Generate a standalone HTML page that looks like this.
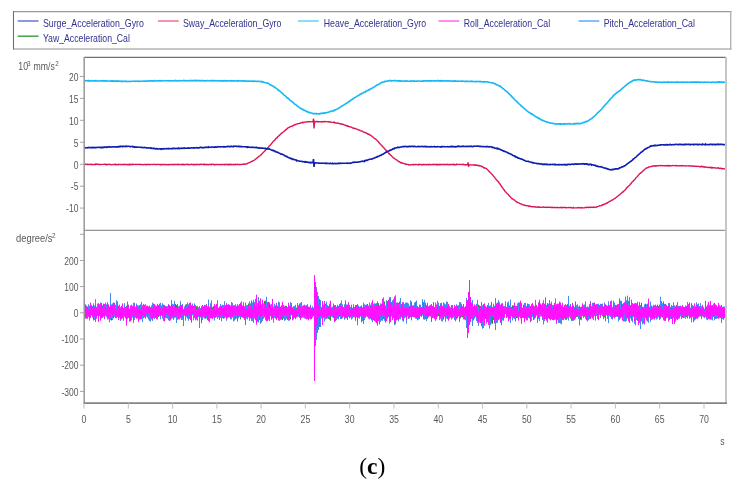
<!DOCTYPE html>
<html><head><meta charset="utf-8"><style>
html,body{margin:0;padding:0;background:#fff;}
body{width:738px;height:484px;overflow:hidden;position:relative;}
svg{position:absolute;left:0;top:0;will-change:transform;}
.t{font-family:"Liberation Sans",sans-serif;font-size:10.9px;fill:#585858;}
.lg{font-family:"Liberation Sans",sans-serif;font-size:11.5px;fill:#31318f;}
.cap{font-family:"Liberation Serif",serif;font-size:23.5px;fill:#000;}
</style></head><body>
<svg width="738" height="484" viewBox="0 0 738 484">
<line x1="13" y1="11.6" x2="731.5" y2="11.6" stroke="#9a9a9a" stroke-width="1.2"/>
<line x1="13" y1="49" x2="731.5" y2="49" stroke="#b4b4b4" stroke-width="1.6"/>
<line x1="13.5" y1="11" x2="13.5" y2="49.5" stroke="#707070" stroke-width="1.1"/>
<line x1="730.7" y1="11" x2="730.7" y2="49.5" stroke="#b4b4b4" stroke-width="1.4"/>
<line x1="17.7" y1="21" x2="38.5" y2="21" stroke="#6b7fd4" stroke-width="1.6"/>
<text x="42.9" y="27.3" class="lg" textLength="101" lengthAdjust="spacingAndGlyphs">Surge_Acceleration_Gyro</text>
<line x1="158" y1="21" x2="178.8" y2="21" stroke="#ee7a98" stroke-width="1.6"/>
<text x="182.9" y="27.3" class="lg" textLength="98.5" lengthAdjust="spacingAndGlyphs">Sway_Acceleration_Gyro</text>
<line x1="298" y1="21" x2="318.8" y2="21" stroke="#6ed4f4" stroke-width="1.6"/>
<text x="323.7" y="27.3" class="lg" textLength="102.4" lengthAdjust="spacingAndGlyphs">Heave_Acceleration_Gyro</text>
<line x1="438.5" y1="21" x2="459.3" y2="21" stroke="#ff6cf0" stroke-width="1.6"/>
<text x="463.7" y="27.3" class="lg" textLength="86.4" lengthAdjust="spacingAndGlyphs">Roll_Acceleration_Cal</text>
<line x1="578.5" y1="21" x2="599.3" y2="21" stroke="#6aaef8" stroke-width="1.6"/>
<text x="603.7" y="27.3" class="lg" textLength="91.2" lengthAdjust="spacingAndGlyphs">Pitch_Acceleration_Cal</text>
<line x1="17.7" y1="36.2" x2="38.5" y2="36.2" stroke="#4fa84f" stroke-width="1.6"/>
<text x="42.9" y="41.9" class="lg" textLength="87" lengthAdjust="spacingAndGlyphs">Yaw_Acceleration_Cal</text>
<text transform="translate(18.3 69.6) scale(0.8 1)" class="t">10</text>
<text x="26.9" y="65.6" class="t" style="font-size:6.4px">3</text>
<text transform="translate(33.6 69.6) scale(0.8 1)" class="t">mm/s</text>
<text x="55.3" y="65.6" class="t" style="font-size:6.4px">2</text>
<text transform="translate(16 242.3) scale(0.86 1)" class="t">degree/s</text>
<text x="51.9" y="238.2" class="t" style="font-size:6.4px">2</text>
<text transform="translate(720.3 444.6) scale(0.8 1)" class="t">s</text>
<text x="372.3" y="473.5" text-anchor="middle" class="cap">(<tspan font-weight="bold">c</tspan>)</text>
<g>
<path fill="none" stroke="#2e8b2e" stroke-width="1" d="M84.5 307.4V315.6M85.5 308.2V313.8M86.5 307.2V314.0M87.5 308.7V314.4M88.5 307.6V315.1M89.5 307.6V313.7M90.5 308.0V316.1M91.5 308.0V314.9M92.5 307.5V316.7M93.5 308.3V314.7M94.5 308.3V318.0M95.5 306.7V314.4M96.5 310.0V315.0M97.5 307.2V314.4M98.5 309.8V316.9M99.5 308.2V313.8M100.5 308.6V313.9M101.5 308.1V316.1M102.5 308.1V314.2M103.5 309.2V315.9M104.5 306.2V313.8M105.5 307.2V315.8M106.5 308.3V315.9M107.5 308.8V316.7M108.5 307.2V314.7M109.5 309.3V314.6M110.5 308.0V315.5M111.5 308.0V320.5M112.5 307.5V318.8M113.5 305.1V318.1M114.5 311.0V316.4M115.5 305.1V314.3M116.5 305.9V316.2M117.5 308.2V314.1M118.5 310.0V316.0M119.5 306.1V315.6M120.5 309.9V315.6M121.5 310.5V315.3M122.5 307.8V313.6M123.5 308.2V317.0M124.5 307.7V315.0M125.5 307.3V317.5M126.5 305.8V315.7M127.5 306.8V315.1M128.5 309.0V314.7M129.5 308.8V314.6M130.5 308.8V314.3M131.5 308.1V315.2M132.5 309.5V314.5M133.5 308.5V314.4M134.5 310.3V315.0M135.5 308.0V315.9M136.5 306.9V315.0M137.5 305.5V315.5M138.5 308.4V317.3M139.5 309.5V316.5M140.5 308.0V315.7M141.5 308.4V314.7M142.5 306.8V317.2M143.5 305.9V317.7M144.5 308.1V315.3M145.5 307.3V315.9M146.5 309.1V315.8M147.5 310.9V317.6M148.5 309.2V314.6M149.5 308.4V316.7M150.5 307.5V316.3M151.5 308.3V313.9M152.5 307.4V315.7M153.5 308.1V315.1M154.5 307.3V313.5M155.5 307.0V317.8M156.5 308.5V317.0M157.5 306.8V313.5M158.5 305.2V317.0M159.5 309.1V314.1M160.5 311.9V318.0M161.5 307.7V314.5M162.5 308.3V315.3M163.5 310.2V316.9M164.5 308.2V315.2M165.5 306.8V317.8M166.5 308.5V317.7M167.5 306.6V314.0M168.5 306.7V314.2M169.5 308.4V315.2M170.5 310.0V315.3M171.5 308.2V315.1M172.5 307.2V317.0M173.5 305.4V313.6M174.5 309.0V317.3M175.5 303.9V317.3M176.5 305.1V317.5M177.5 308.5V315.6M178.5 308.4V313.2M179.5 306.7V314.0M180.5 307.5V316.2M181.5 309.4V318.8M182.5 308.5V316.5M183.5 309.3V315.9M184.5 309.0V314.1M185.5 308.6V315.2M186.5 304.3V314.9M187.5 308.5V317.8M188.5 307.2V313.1M189.5 308.2V315.6M190.5 307.1V316.5M191.5 305.4V316.0M192.5 307.6V313.5M193.5 305.9V317.7M194.5 308.2V313.9M195.5 308.7V313.8M196.5 306.4V316.7M197.5 308.5V313.7M198.5 309.8V316.5M199.5 306.7V313.8M200.5 308.2V316.9M201.5 308.4V316.3M202.5 305.5V314.6M203.5 306.8V314.4M204.5 307.5V313.6M205.5 306.9V313.6M206.5 304.2V314.9M207.5 307.4V317.1M208.5 308.8V315.9M209.5 307.9V315.8M210.5 309.0V315.0M211.5 308.9V314.3M212.5 307.3V314.2M213.5 307.8V317.5M214.5 304.5V316.0M215.5 309.5V315.2M216.5 309.0V316.4M217.5 308.1V314.6M218.5 309.0V316.1M219.5 307.4V315.9M220.5 310.5V316.0M221.5 309.8V314.7M222.5 309.0V318.1M223.5 307.6V313.8M224.5 309.2V313.0M225.5 308.9V315.6M226.5 307.4V313.4M227.5 308.6V315.3M228.5 307.4V316.4M229.5 308.8V316.1M230.5 309.0V315.8M231.5 306.9V315.5M232.5 308.7V314.3M233.5 307.8V318.7M234.5 308.6V316.0M235.5 306.7V315.0M236.5 308.1V312.4M237.5 307.7V315.9M238.5 307.9V316.0M239.5 309.3V316.9M240.5 308.7V319.3M241.5 306.5V314.7M242.5 307.8V314.7M243.5 306.6V315.6M244.5 307.5V316.6M245.5 305.1V317.0M246.5 307.7V315.9M247.5 307.1V316.0M248.5 303.5V314.5M249.5 307.6V318.0M250.5 307.8V316.0M251.5 305.6V315.6M252.5 307.5V314.7M253.5 308.3V315.7M254.5 307.7V314.9M255.5 305.6V319.6M256.5 305.1V318.2M257.5 305.7V317.0M258.5 301.8V315.9M259.5 303.0V319.9M260.5 308.0V318.2M261.5 309.6V316.3M262.5 305.5V320.7M263.5 305.5V318.6M264.5 301.0V315.3M265.5 308.8V317.1M266.5 306.1V317.2M267.5 309.8V315.7M268.5 301.8V316.9M269.5 302.6V317.1M270.5 308.2V315.5M271.5 306.5V319.7M272.5 307.4V315.7M273.5 307.1V316.7M274.5 307.3V314.5M275.5 306.1V315.9M276.5 309.5V316.4M277.5 310.0V315.8M278.5 306.0V314.2M279.5 307.0V318.0M280.5 309.8V318.0M281.5 310.5V314.7M282.5 307.1V320.0M283.5 305.1V315.5M284.5 309.2V315.2M285.5 308.9V315.4M286.5 305.9V314.7M287.5 308.3V315.4M288.5 304.9V316.5M289.5 308.6V315.1M290.5 311.0V319.4M291.5 306.5V315.2M292.5 308.3V317.3M293.5 309.0V317.5M294.5 308.6V316.1M295.5 307.5V315.0M296.5 307.7V314.5M297.5 308.4V315.0M298.5 306.1V316.6M299.5 308.5V315.6M300.5 309.0V313.9M301.5 310.3V317.8M302.5 307.9V314.8M303.5 305.6V315.7M304.5 305.8V314.1M305.5 307.9V316.1M306.5 306.1V313.6M307.5 307.6V315.5M308.5 309.1V315.9M309.5 307.4V318.3M310.5 306.9V315.2M311.5 310.7V315.1M312.5 308.4V314.6M313.5 308.3V315.9M314.5 309.0V317.4M315.5 306.0V317.4M316.5 309.6V313.8M317.5 305.7V314.6M318.5 306.9V318.5M319.5 307.4V314.5M320.5 307.9V316.4M321.5 307.3V314.2M322.5 306.2V316.6M323.5 308.4V316.1M324.5 305.6V317.9M325.5 303.9V314.5M326.5 308.6V315.5M327.5 309.7V316.5M328.5 309.0V318.9M329.5 310.2V315.4M330.5 309.0V320.8M331.5 309.3V314.8M332.5 307.3V316.1M333.5 311.1V315.8M334.5 309.2V315.8M335.5 310.5V316.4M336.5 308.2V315.2M337.5 308.1V318.6M338.5 307.6V314.1M339.5 306.0V314.9M340.5 309.2V312.7M341.5 308.8V318.9M342.5 308.6V317.7M343.5 307.7V315.0M344.5 304.5V315.9M345.5 309.5V315.0M346.5 309.4V316.5M347.5 308.6V316.1M348.5 307.0V316.2M349.5 309.4V317.2M350.5 308.2V315.8M351.5 309.3V316.2M352.5 308.6V314.3M353.5 306.3V315.7M354.5 308.1V313.7M355.5 309.9V314.9M356.5 308.4V316.6M357.5 308.6V315.0M358.5 308.9V317.8M359.5 307.5V312.5M360.5 307.8V313.6M361.5 308.3V313.5M362.5 309.4V314.5M363.5 308.5V315.6M364.5 309.0V313.4M365.5 309.4V317.6M366.5 307.2V314.9M367.5 307.3V316.9M368.5 307.6V316.8M369.5 310.6V317.1M370.5 308.0V314.0M371.5 305.8V318.9M372.5 307.6V312.1M373.5 308.4V313.6M374.5 305.6V316.4M375.5 307.7V315.4M376.5 307.5V318.4M377.5 306.9V319.7M378.5 303.2V314.8M379.5 308.5V319.1M380.5 308.6V318.5M381.5 305.7V317.3M382.5 305.7V314.2M383.5 304.1V317.5M384.5 301.6V313.5M385.5 305.5V315.7M386.5 300.4V317.9M387.5 308.1V316.7M388.5 309.1V316.4M389.5 299.9V316.1M390.5 305.2V314.2M391.5 304.5V315.3M392.5 305.8V314.9M393.5 307.2V317.9M394.5 302.9V316.0M395.5 304.1V316.0M396.5 307.1V318.2M397.5 306.3V314.7M398.5 309.3V317.6M399.5 301.7V315.5M400.5 308.5V315.3M401.5 305.5V314.2M402.5 307.8V317.5M403.5 306.0V315.7M404.5 308.1V316.2M405.5 306.8V315.1M406.5 307.8V314.0M407.5 307.0V314.4M408.5 306.8V319.0M409.5 308.0V314.8M410.5 306.0V316.7M411.5 309.5V315.3M412.5 309.9V316.5M413.5 308.2V316.2M414.5 305.4V316.0M415.5 306.4V313.3M416.5 309.0V317.5M417.5 308.2V315.8M418.5 309.8V315.7M419.5 308.3V315.1M420.5 307.1V313.2M421.5 308.6V315.4M422.5 305.4V314.1M423.5 307.8V315.3M424.5 308.8V315.7M425.5 306.6V314.0M426.5 309.2V314.3M427.5 309.2V318.7M428.5 310.8V317.1M429.5 307.5V315.9M430.5 306.8V312.8M431.5 307.5V314.1M432.5 307.4V315.3M433.5 309.0V315.5M434.5 309.3V314.7M435.5 305.1V316.9M436.5 308.7V313.8M437.5 308.7V315.2M438.5 310.6V316.0M439.5 309.6V316.0M440.5 308.3V315.4M441.5 310.3V316.3M442.5 307.5V315.7M443.5 308.5V315.4M444.5 309.1V316.2M445.5 308.2V313.2M446.5 308.8V314.1M447.5 308.2V315.3M448.5 308.6V314.4M449.5 309.5V315.2M450.5 309.0V314.4M451.5 305.1V315.0M452.5 305.1V311.8M453.5 308.3V316.0M454.5 309.0V313.8M455.5 307.5V315.8M456.5 306.7V315.8M457.5 308.3V316.7M458.5 307.6V313.8M459.5 308.2V314.9M460.5 308.7V318.4M461.5 308.3V314.1M462.5 309.2V317.3M463.5 310.8V314.7M464.5 309.9V318.1M465.5 308.3V314.2M466.5 305.0V317.7M467.5 308.3V317.0M468.5 306.9V314.9M469.5 307.6V317.2M470.5 306.4V316.4M471.5 307.6V314.3M472.5 310.0V316.1M473.5 307.7V318.4M474.5 307.9V317.0M475.5 308.9V315.3M476.5 308.2V315.5M477.5 309.3V315.1M478.5 304.7V314.0M479.5 305.6V316.1M480.5 309.8V320.1M481.5 307.8V319.4M482.5 308.4V314.8M483.5 308.3V314.6M484.5 309.0V317.2M485.5 306.4V317.2M486.5 308.3V317.6M487.5 308.3V317.8M488.5 309.0V317.5M489.5 307.1V315.8M490.5 310.2V318.5M491.5 307.0V314.3M492.5 307.4V323.8M493.5 307.3V316.8M494.5 306.3V314.5M495.5 306.0V315.9M496.5 310.1V317.8M497.5 306.3V317.0M498.5 308.9V316.5M499.5 310.2V315.8M500.5 305.9V314.1M501.5 306.6V315.1M502.5 307.9V319.9M503.5 307.4V314.0M504.5 308.5V317.6M505.5 305.6V313.9M506.5 308.6V313.6M507.5 310.0V316.6M508.5 309.4V315.2M509.5 307.3V315.5M510.5 308.9V315.3M511.5 308.2V315.0M512.5 305.4V315.0M513.5 310.1V317.0M514.5 307.7V318.9M515.5 305.9V316.8M516.5 308.7V318.1M517.5 305.9V315.3M518.5 305.8V314.7M519.5 308.9V316.7M520.5 308.1V316.5M521.5 307.3V315.5M522.5 308.0V316.9M523.5 304.8V317.2M524.5 306.6V318.5M525.5 307.5V318.4M526.5 307.5V314.0M527.5 305.8V319.6M528.5 308.1V313.8M529.5 305.9V318.1M530.5 309.8V315.6M531.5 309.2V317.2M532.5 304.7V314.2M533.5 308.0V316.9M534.5 306.4V314.8M535.5 305.0V315.5M536.5 306.4V315.0M537.5 307.5V316.4M538.5 308.5V316.9M539.5 310.9V315.7M540.5 307.8V315.9M541.5 307.4V314.0M542.5 307.9V315.2M543.5 307.0V317.0M544.5 307.3V315.3M545.5 309.4V314.9M546.5 309.1V316.0M547.5 309.8V320.8M548.5 308.6V315.3M549.5 306.8V316.3M550.5 306.6V319.7M551.5 309.5V318.2M552.5 309.7V315.0M553.5 306.7V318.7M554.5 309.6V315.7M555.5 307.6V315.3M556.5 307.5V316.4M557.5 304.6V319.5M558.5 308.5V316.4M559.5 307.8V317.6M560.5 308.8V317.2M561.5 310.4V316.3M562.5 308.8V319.0M563.5 309.4V318.6M564.5 308.0V317.6M565.5 308.3V314.2M566.5 310.4V319.7M567.5 305.3V315.8M568.5 306.7V316.9M569.5 306.3V315.0M570.5 306.5V318.6M571.5 307.9V317.4M572.5 308.5V316.3M573.5 306.8V315.8M574.5 307.2V316.0M575.5 311.3V318.4M576.5 306.7V317.0M577.5 309.2V316.2M578.5 308.8V315.3M579.5 305.6V314.1M580.5 307.1V319.7M581.5 307.5V314.7M582.5 307.4V316.0M583.5 305.2V317.3M584.5 309.4V316.7M585.5 310.9V317.7M586.5 308.1V318.1M587.5 308.3V315.0M588.5 309.0V314.8M589.5 307.3V316.3M590.5 304.9V317.3M591.5 309.0V315.5M592.5 307.7V318.0M593.5 307.5V315.7M594.5 308.6V315.8M595.5 309.1V318.5M596.5 311.5V314.1M597.5 309.5V315.1M598.5 309.1V316.9M599.5 305.5V314.4M600.5 309.8V317.8M601.5 307.9V314.0M602.5 308.6V314.7M603.5 306.5V314.4M604.5 309.4V317.4M605.5 306.1V317.1M606.5 309.2V314.6M607.5 306.3V313.7M608.5 306.8V314.7M609.5 306.5V314.7M610.5 307.0V313.4M611.5 309.3V315.0M612.5 309.4V315.4M613.5 307.4V315.6M614.5 308.3V314.8M615.5 308.9V314.7M616.5 305.3V314.3M617.5 308.9V316.8M618.5 305.6V314.9M619.5 309.0V318.1M620.5 301.8V313.9M621.5 310.2V314.4M622.5 304.3V314.0M623.5 305.9V316.1M624.5 305.7V313.5M625.5 303.3V317.8M626.5 300.7V319.2M627.5 300.2V316.6M628.5 304.5V317.6M629.5 305.4V319.5M630.5 305.4V315.2M631.5 305.3V319.3M632.5 309.3V318.4M633.5 306.4V315.5M634.5 308.8V317.6M635.5 307.9V316.5M636.5 307.0V317.6M637.5 306.9V315.8M638.5 308.1V317.1M639.5 308.0V315.6M640.5 306.4V315.3M641.5 302.9V312.8M642.5 307.4V321.4M643.5 307.2V319.3M644.5 308.4V317.5M645.5 307.5V318.0M646.5 309.1V318.1M647.5 303.7V319.7M648.5 307.8V314.5M649.5 309.0V317.0M650.5 308.1V318.5M651.5 307.3V317.2M652.5 309.8V316.6M653.5 307.9V314.3M654.5 306.9V315.6M655.5 307.9V314.2M656.5 308.1V314.6M657.5 304.7V316.2M658.5 306.1V314.5M659.5 306.4V314.9M660.5 308.8V317.3M661.5 307.6V316.2M662.5 304.7V316.0M663.5 306.2V316.2M664.5 310.1V316.7M665.5 307.9V315.0M666.5 308.5V318.3M667.5 308.2V315.7M668.5 308.8V315.1M669.5 311.3V314.2M670.5 307.1V314.8M671.5 309.3V317.1M672.5 308.5V316.5M673.5 307.6V314.4M674.5 309.1V315.8M675.5 306.4V316.1M676.5 308.8V316.2M677.5 305.5V315.7M678.5 306.0V313.5M679.5 309.1V316.6M680.5 309.3V315.2M681.5 310.5V317.5M682.5 308.2V315.6M683.5 307.0V317.0M684.5 308.9V315.9M685.5 308.2V315.8M686.5 307.8V317.0M687.5 306.6V316.5M688.5 305.5V313.8M689.5 307.1V314.8M690.5 307.6V314.0M691.5 306.4V315.2M692.5 307.2V315.0M693.5 308.0V314.6M694.5 308.4V314.8M695.5 309.4V315.2M696.5 308.5V314.5M697.5 306.0V316.0M698.5 308.9V316.7M699.5 309.3V314.7M700.5 310.6V316.3M701.5 308.0V315.2M702.5 306.0V315.7M703.5 309.9V314.6M704.5 308.8V315.9M705.5 308.1V314.1M706.5 307.4V316.9M707.5 307.2V316.9M708.5 307.6V316.0M709.5 309.9V315.3M710.5 308.9V315.2M711.5 305.4V317.5M712.5 308.2V317.4M713.5 307.9V315.6M714.5 309.1V317.5M715.5 307.4V318.7M716.5 306.9V315.2M717.5 310.0V318.1M718.5 309.9V314.6M719.5 306.2V314.9M720.5 309.8V316.0M721.5 309.3V315.2M722.5 309.4V316.4M723.5 306.7V315.8M724.5 307.3V316.8M725.5 306.5V314.9"/>
<path fill="none" stroke="#3d8cf2" stroke-width="1" d="M84.5 306.6V318.1M85.5 304.3V318.7M86.5 305.6V315.0M87.5 306.5V318.9M88.5 304.3V316.6M89.5 305.7V320.6M90.5 304.5V316.6M91.5 305.0V315.0M92.5 305.9V316.4M93.5 303.3V315.8M94.5 305.6V319.9M95.5 299.2V322.0M96.5 306.8V318.2M97.5 303.6V315.9M98.5 307.3V316.8M99.5 306.2V316.1M100.5 302.5V319.9M101.5 309.2V316.7M102.5 305.3V317.7M103.5 308.9V316.9M104.5 308.3V319.3M105.5 302.7V315.8M106.5 304.3V317.2M107.5 306.6V319.7M108.5 304.8V318.9M109.5 308.3V322.4M110.5 293.0V320.1M111.5 304.5V318.2M112.5 303.4V320.1M113.5 302.5V315.6M114.5 303.2V316.7M115.5 305.6V317.8M116.5 300.2V318.2M117.5 301.4V315.7M118.5 305.6V314.9M119.5 304.5V317.7M120.5 307.1V320.9M121.5 306.7V318.3M122.5 307.0V315.6M123.5 307.9V320.8M124.5 303.1V315.0M125.5 306.8V315.7M126.5 306.8V314.8M127.5 309.4V319.2M128.5 304.6V317.0M129.5 309.4V317.3M130.5 310.2V318.8M131.5 304.6V320.2M132.5 305.8V317.7M133.5 302.7V323.0M134.5 302.8V319.9M135.5 306.8V317.7M136.5 303.5V317.6M137.5 305.4V313.5M138.5 305.5V317.5M139.5 306.0V319.6M140.5 304.3V317.1M141.5 301.9V319.2M142.5 308.2V322.2M143.5 303.9V318.3M144.5 305.8V317.2M145.5 304.2V318.8M146.5 309.1V316.6M147.5 305.5V317.3M148.5 306.9V319.7M149.5 309.6V321.0M150.5 307.8V321.7M151.5 305.4V319.5M152.5 302.7V320.9M153.5 305.7V317.2M154.5 305.8V319.2M155.5 305.4V314.7M156.5 308.4V315.5M157.5 305.4V319.6M158.5 308.1V314.1M159.5 303.7V316.3M160.5 302.8V319.3M161.5 305.4V315.7M162.5 303.2V318.7M163.5 308.4V321.0M164.5 305.8V321.3M165.5 306.0V317.5M166.5 306.3V318.1M167.5 306.2V318.7M168.5 304.2V320.2M169.5 307.0V316.2M170.5 306.2V315.0M171.5 300.0V318.8M172.5 303.9V318.3M173.5 304.3V319.9M174.5 300.9V318.2M175.5 308.3V317.4M176.5 307.6V323.0M177.5 308.0V319.9M178.5 306.4V316.6M179.5 305.9V319.5M180.5 301.1V315.8M181.5 307.0V320.0M182.5 303.9V319.8M183.5 309.9V326.2M184.5 306.4V315.4M185.5 305.7V320.7M186.5 305.5V317.2M187.5 302.4V316.1M188.5 304.2V320.7M189.5 309.3V319.0M190.5 303.4V315.5M191.5 305.7V322.4M192.5 303.6V315.3M193.5 307.5V320.4M194.5 303.4V318.1M195.5 305.1V320.3M196.5 309.4V316.6M197.5 305.9V320.7M198.5 307.2V317.0M199.5 306.0V328.0M200.5 308.3V317.6M201.5 306.1V317.2M202.5 305.2V320.0M203.5 308.7V317.4M204.5 304.8V318.6M205.5 305.0V314.1M206.5 307.5V318.3M207.5 308.1V316.5M208.5 299.5V318.9M209.5 306.7V322.3M210.5 303.2V317.3M211.5 300.3V318.4M212.5 309.2V315.2M213.5 306.5V317.1M214.5 304.4V320.5M215.5 305.3V317.9M216.5 306.5V315.3M217.5 300.1V318.9M218.5 308.8V317.5M219.5 306.3V315.3M220.5 304.0V317.9M221.5 306.0V321.3M222.5 304.7V317.5M223.5 305.0V317.5M224.5 301.2V318.4M225.5 305.1V317.5M226.5 307.8V320.8M227.5 306.1V318.2M228.5 304.2V317.5M229.5 305.8V317.5M230.5 311.0V319.5M231.5 302.0V319.3M232.5 302.9V316.2M233.5 305.3V321.4M234.5 305.3V320.6M235.5 304.1V319.4M236.5 306.1V318.4M237.5 303.9V315.9M238.5 306.6V318.3M239.5 307.6V316.5M240.5 306.4V317.8M241.5 301.3V314.5M242.5 310.7V315.8M243.5 302.1V317.8M244.5 306.7V317.8M245.5 302.5V321.2M246.5 305.1V318.6M247.5 305.1V319.4M248.5 306.0V316.9M249.5 301.5V320.9M250.5 303.4V318.3M251.5 301.3V321.2M252.5 302.3V321.1M253.5 299.7V322.9M254.5 301.9V317.9M255.5 298.7V317.5M256.5 301.8V319.0M257.5 303.1V320.6M258.5 297.0V322.5M259.5 300.6V314.7M260.5 300.3V323.8M261.5 306.9V322.6M262.5 303.2V320.7M263.5 303.3V318.6M264.5 304.9V317.5M265.5 300.6V320.3M266.5 296.8V316.7M267.5 307.0V317.9M268.5 306.4V319.1M269.5 308.1V319.7M270.5 304.7V316.4M271.5 304.1V318.5M272.5 308.8V317.3M273.5 306.4V322.7M274.5 303.7V317.8M275.5 307.4V315.8M276.5 305.4V318.7M277.5 305.8V318.0M278.5 301.5V320.1M279.5 302.3V320.9M280.5 308.8V318.0M281.5 310.8V315.0M282.5 306.7V316.7M283.5 305.2V318.4M284.5 309.2V320.8M285.5 307.2V320.2M286.5 309.9V318.9M287.5 306.9V315.2M288.5 307.7V320.8M289.5 307.4V320.6M290.5 302.1V317.0M291.5 307.2V315.0M292.5 307.3V319.3M293.5 306.3V319.5M294.5 305.9V317.8M295.5 304.8V317.8M296.5 308.7V317.5M297.5 303.1V316.8M298.5 308.1V316.7M299.5 303.5V318.0M300.5 302.8V320.3M301.5 302.0V316.4M302.5 307.0V314.1M303.5 305.3V317.7M304.5 304.6V318.5M305.5 306.7V318.8M306.5 305.0V317.9M307.5 304.1V315.2M308.5 307.0V317.1M309.5 307.0V318.6M310.5 304.7V313.7M311.5 308.8V317.4M312.5 306.2V317.2M313.5 310.3V316.0M314.5 275.0V338.0M315.5 282.0V346.0M316.5 287.0V340.0M317.5 292.0V333.0M318.5 296.0V330.0M319.5 304.0V319.5M320.5 300.0V327.0M321.5 307.4V318.4M322.5 306.5V321.8M323.5 305.2V317.7M324.5 306.5V321.6M325.5 305.1V319.5M326.5 301.6V318.6M327.5 305.7V318.5M328.5 306.0V317.8M329.5 304.9V319.7M330.5 306.4V314.2M331.5 307.4V314.3M332.5 306.7V317.6M333.5 303.6V318.0M334.5 307.9V317.5M335.5 309.3V317.4M336.5 306.7V320.2M337.5 304.8V318.4M338.5 305.9V319.4M339.5 305.8V316.8M340.5 303.0V318.9M341.5 300.4V317.9M342.5 304.2V318.1M343.5 307.0V313.9M344.5 304.8V319.8M345.5 308.9V317.1M346.5 304.4V316.3M347.5 304.6V319.7M348.5 302.8V317.0M349.5 307.2V315.5M350.5 307.0V316.6M351.5 307.8V319.6M352.5 307.7V318.6M353.5 304.2V316.2M354.5 307.0V317.0M355.5 305.1V319.1M356.5 306.0V316.4M357.5 305.3V325.4M358.5 305.6V314.0M359.5 306.7V318.7M360.5 306.2V316.7M361.5 308.0V322.3M362.5 309.3V321.1M363.5 302.5V324.0M364.5 304.3V320.1M365.5 305.0V317.5M366.5 304.4V314.5M367.5 305.4V317.0M368.5 308.8V317.9M369.5 302.4V319.4M370.5 304.7V319.0M371.5 302.6V316.6M372.5 304.7V322.2M373.5 303.9V314.3M374.5 303.3V318.3M375.5 304.1V322.2M376.5 303.2V318.1M377.5 309.8V323.7M378.5 308.9V318.9M379.5 307.8V315.7M380.5 303.4V321.9M381.5 303.6V320.5M382.5 302.4V320.9M383.5 297.4V319.1M384.5 303.9V320.8M385.5 306.3V318.4M386.5 300.9V319.3M387.5 310.5V318.4M388.5 303.2V317.1M389.5 302.6V323.6M390.5 297.1V315.9M391.5 302.3V316.3M392.5 300.4V315.7M393.5 298.9V318.0M394.5 303.4V325.1M395.5 295.3V321.7M396.5 302.5V317.6M397.5 307.0V318.6M398.5 303.0V321.3M399.5 303.8V319.3M400.5 298.0V319.3M401.5 305.2V317.4M402.5 306.5V320.7M403.5 302.0V318.6M404.5 303.9V318.2M405.5 302.8V317.1M406.5 302.5V323.7M407.5 302.7V316.1M408.5 303.5V318.9M409.5 306.4V316.8M410.5 300.3V316.9M411.5 307.2V318.7M412.5 309.4V316.7M413.5 305.9V316.8M414.5 302.7V317.5M415.5 307.1V318.6M416.5 300.5V318.8M417.5 306.2V318.8M418.5 307.2V319.7M419.5 308.0V317.0M420.5 304.7V314.4M421.5 307.8V317.1M422.5 299.2V315.6M423.5 306.6V318.1M424.5 299.8V319.8M425.5 308.0V317.4M426.5 306.5V321.1M427.5 302.8V316.9M428.5 306.6V317.2M429.5 305.6V314.0M430.5 307.4V315.8M431.5 304.3V322.1M432.5 307.1V316.4M433.5 307.1V317.9M434.5 307.3V315.9M435.5 302.5V319.0M436.5 308.0V315.6M437.5 300.8V314.5M438.5 302.6V314.1M439.5 306.9V320.1M440.5 303.2V316.6M441.5 302.8V321.1M442.5 307.3V321.6M443.5 302.3V316.5M444.5 303.4V315.3M445.5 304.3V321.8M446.5 301.5V318.4M447.5 301.8V319.2M448.5 306.6V317.3M449.5 306.0V318.7M450.5 307.3V317.2M451.5 305.0V319.6M452.5 305.5V318.3M453.5 308.4V317.6M454.5 306.1V320.0M455.5 306.8V321.4M456.5 304.3V317.7M457.5 305.8V316.0M458.5 305.1V316.0M459.5 302.1V321.6M460.5 302.2V315.4M461.5 306.6V316.8M462.5 306.4V316.1M463.5 306.3V319.4M464.5 307.3V314.5M465.5 308.3V320.2M466.5 298.0V328.0M467.5 304.3V316.1M468.5 296.0V330.0M469.5 305.0V320.7M470.5 302.1V318.3M471.5 302.3V319.0M472.5 300.0V326.0M473.5 307.5V318.2M474.5 305.1V318.7M475.5 305.3V317.2M476.5 303.9V321.0M477.5 299.7V322.9M478.5 306.9V326.0M479.5 307.8V322.5M480.5 308.2V322.4M481.5 301.9V320.3M482.5 305.3V328.7M483.5 305.4V328.1M484.5 306.7V322.1M485.5 306.3V319.0M486.5 308.1V323.7M487.5 305.5V320.2M488.5 302.9V319.3M489.5 306.0V328.6M490.5 305.2V325.2M491.5 302.4V323.5M492.5 307.3V317.2M493.5 303.7V314.7M494.5 305.8V323.6M495.5 298.0V330.0M496.5 306.2V323.1M497.5 309.2V322.7M498.5 300.2V319.9M499.5 302.2V319.3M500.5 308.0V322.9M501.5 304.0V317.5M502.5 303.1V320.5M503.5 306.0V320.7M504.5 306.1V316.9M505.5 301.2V312.0M506.5 307.8V317.7M507.5 302.4V315.2M508.5 301.5V318.2M509.5 305.4V319.4M510.5 299.6V322.9M511.5 307.8V313.7M512.5 308.1V320.5M513.5 305.6V317.6M514.5 307.2V319.1M515.5 306.9V315.0M516.5 306.2V316.4M517.5 303.3V318.0M518.5 302.4V315.5M519.5 307.8V315.0M520.5 305.8V316.1M521.5 302.9V322.0M522.5 307.6V316.5M523.5 308.3V315.4M524.5 303.0V314.2M525.5 302.9V318.0M526.5 306.0V319.3M527.5 305.4V320.4M528.5 304.0V317.8M529.5 304.3V316.1M530.5 308.2V322.1M531.5 303.9V320.9M532.5 305.5V316.9M533.5 308.3V319.4M534.5 307.7V319.4M535.5 299.9V317.9M536.5 305.7V315.0M537.5 306.7V322.9M538.5 306.6V319.0M539.5 299.7V321.0M540.5 308.3V316.7M541.5 304.7V316.4M542.5 308.5V319.9M543.5 300.2V324.5M544.5 304.5V321.1M545.5 304.5V319.0M546.5 304.9V313.5M547.5 303.0V316.2M548.5 303.7V317.8M549.5 305.4V319.2M550.5 308.7V318.8M551.5 301.6V318.7M552.5 305.1V314.0M553.5 307.1V317.8M554.5 311.0V316.1M555.5 298.4V319.6M556.5 305.0V313.3M557.5 303.6V318.6M558.5 306.2V322.9M559.5 307.4V323.0M560.5 306.4V323.6M561.5 305.5V324.3M562.5 304.4V319.3M563.5 306.9V320.3M564.5 308.6V317.9M565.5 304.1V319.8M566.5 308.0V317.4M567.5 305.7V318.5M568.5 296.0V320.6M569.5 305.6V316.8M570.5 304.0V318.0M571.5 308.0V319.8M572.5 304.6V320.9M573.5 306.6V318.7M574.5 306.9V319.9M575.5 304.4V314.4M576.5 305.2V315.7M577.5 304.3V315.7M578.5 306.6V318.9M579.5 308.7V325.5M580.5 307.4V316.2M581.5 306.5V320.3M582.5 305.3V315.1M583.5 306.0V317.9M584.5 304.5V315.4M585.5 301.5V318.8M586.5 307.1V318.7M587.5 309.3V321.4M588.5 306.9V320.3M589.5 307.1V319.2M590.5 300.9V319.0M591.5 307.8V317.3M592.5 302.8V315.9M593.5 303.3V320.1M594.5 306.2V316.1M595.5 307.9V318.5M596.5 309.0V315.9M597.5 305.3V319.0M598.5 303.6V319.7M599.5 307.8V315.0M600.5 303.9V316.1M601.5 307.8V315.1M602.5 303.6V316.2M603.5 309.0V319.2M604.5 302.4V315.7M605.5 305.4V321.1M606.5 305.1V313.0M607.5 306.3V318.9M608.5 301.3V323.2M609.5 305.6V316.1M610.5 304.0V317.1M611.5 300.4V319.0M612.5 306.8V319.6M613.5 300.8V314.2M614.5 302.6V316.3M615.5 306.1V314.1M616.5 305.2V316.8M617.5 304.2V315.4M618.5 306.5V321.5M619.5 304.3V318.3M620.5 300.5V317.0M621.5 305.6V313.8M622.5 304.1V317.8M623.5 307.3V321.5M624.5 302.7V321.5M625.5 296.5V321.7M626.5 300.3V320.9M627.5 295.6V317.6M628.5 300.8V320.9M629.5 297.0V322.0M630.5 307.1V318.3M631.5 303.8V318.9M632.5 303.2V322.3M633.5 303.8V316.9M634.5 305.3V323.8M635.5 303.9V325.5M636.5 306.1V320.1M637.5 301.6V314.9M638.5 309.3V319.2M639.5 301.9V323.0M640.5 305.0V329.0M641.5 307.4V321.5M642.5 307.8V324.3M643.5 306.8V323.7M644.5 304.4V324.6M645.5 307.2V316.7M646.5 304.3V320.2M647.5 304.2V321.6M648.5 306.6V322.7M649.5 306.8V317.3M650.5 301.6V321.9M651.5 307.6V320.0M652.5 306.4V317.8M653.5 304.8V318.7M654.5 306.7V317.5M655.5 305.4V318.0M656.5 306.0V319.6M657.5 307.1V318.7M658.5 308.8V317.3M659.5 304.5V318.3M660.5 296.7V319.0M661.5 301.0V317.0M662.5 303.2V314.2M663.5 307.4V320.4M664.5 303.8V316.1M665.5 307.1V319.3M666.5 304.8V317.4M667.5 306.2V317.8M668.5 303.0V319.7M669.5 303.1V317.0M670.5 306.9V319.1M671.5 304.9V318.7M672.5 305.8V316.8M673.5 302.3V318.1M674.5 305.4V321.8M675.5 306.8V321.7M676.5 306.6V317.3M677.5 302.0V319.8M678.5 305.9V318.7M679.5 307.0V318.5M680.5 305.7V316.5M681.5 306.3V319.1M682.5 305.0V317.6M683.5 309.8V318.0M684.5 308.7V317.8M685.5 305.5V318.8M686.5 305.8V314.7M687.5 302.0V315.8M688.5 307.2V316.2M689.5 308.8V318.8M690.5 308.0V318.0M691.5 307.8V322.4M692.5 305.0V315.9M693.5 305.8V315.9M694.5 305.9V320.6M695.5 310.3V318.6M696.5 302.3V317.1M697.5 304.9V319.0M698.5 303.5V316.3M699.5 306.1V316.7M700.5 303.2V315.5M701.5 306.2V319.2M702.5 304.8V316.1M703.5 309.1V317.4M704.5 308.8V318.3M705.5 306.8V317.2M706.5 306.9V319.6M707.5 304.5V320.2M708.5 303.5V314.2M709.5 307.5V315.8M710.5 302.1V316.9M711.5 307.1V319.7M712.5 307.7V320.5M713.5 303.5V315.4M714.5 305.5V320.3M715.5 304.3V317.4M716.5 309.3V319.0M717.5 307.7V318.3M718.5 306.3V316.8M719.5 305.2V317.8M720.5 306.7V314.9M721.5 306.4V323.1M722.5 306.8V319.2M723.5 307.5V314.7M724.5 306.5V315.9M725.5 310.4V318.7"/>
<path fill="none" stroke="#ff10ff" stroke-width="1" d="M84.5 301.2V318.1M85.5 305.6V317.6M86.5 306.7V318.5M87.5 306.8V315.4M88.5 309.5V316.7M89.5 309.6V317.5M90.5 302.5V318.1M91.5 305.2V315.5M92.5 307.2V317.5M93.5 306.6V320.5M94.5 307.9V316.4M95.5 304.2V320.7M96.5 307.0V318.7M97.5 309.7V315.6M98.5 303.3V321.9M99.5 304.3V315.7M100.5 304.1V320.8M101.5 302.9V318.3M102.5 307.1V318.0M103.5 303.6V315.2M104.5 304.0V318.6M105.5 306.6V314.8M106.5 308.7V315.7M107.5 302.2V317.0M108.5 304.4V319.1M109.5 306.8V313.4M110.5 305.6V317.7M111.5 304.9V313.4M112.5 305.7V316.3M113.5 302.8V316.4M114.5 302.8V314.6M115.5 308.3V318.1M116.5 310.0V317.8M117.5 305.6V316.9M118.5 306.0V320.1M119.5 307.7V317.1M120.5 308.3V319.3M121.5 305.7V319.3M122.5 303.4V318.3M123.5 308.4V316.5M124.5 306.7V316.7M125.5 308.2V318.4M126.5 307.7V325.7M127.5 301.6V317.1M128.5 304.9V318.0M129.5 309.1V321.5M130.5 305.6V321.5M131.5 306.0V315.8M132.5 306.1V316.1M133.5 307.1V319.5M134.5 305.4V316.4M135.5 309.6V317.0M136.5 305.8V318.8M137.5 307.5V318.1M138.5 308.7V321.9M139.5 305.2V314.9M140.5 310.0V319.3M141.5 308.2V318.5M142.5 305.3V315.9M143.5 305.0V315.7M144.5 304.8V317.4M145.5 308.9V316.8M146.5 305.9V314.1M147.5 306.6V316.5M148.5 306.5V313.8M149.5 305.7V314.0M150.5 307.4V317.1M151.5 307.2V317.4M152.5 308.3V319.5M153.5 303.6V318.1M154.5 304.1V316.6M155.5 306.5V318.0M156.5 305.9V319.2M157.5 303.8V317.0M158.5 306.0V316.1M159.5 304.0V314.4M160.5 307.8V316.2M161.5 307.8V315.1M162.5 308.2V316.8M163.5 304.6V313.3M164.5 305.0V321.3M165.5 306.0V316.0M166.5 308.0V313.4M167.5 307.4V315.6M168.5 304.5V315.6M169.5 305.0V321.0M170.5 306.2V320.4M171.5 304.3V317.6M172.5 305.7V316.6M173.5 308.1V316.5M174.5 306.3V316.2M175.5 307.4V316.7M176.5 307.6V316.4M177.5 304.0V315.0M178.5 308.1V319.3M179.5 305.7V314.5M180.5 305.4V317.9M181.5 305.0V317.1M182.5 304.8V314.9M183.5 309.4V316.9M184.5 308.5V315.7M185.5 304.6V316.0M186.5 307.7V315.1M187.5 305.9V318.5M188.5 306.3V314.5M189.5 303.0V316.0M190.5 302.4V320.2M191.5 306.0V322.4M192.5 304.7V313.8M193.5 310.0V314.1M194.5 305.0V317.0M195.5 306.4V318.7M196.5 309.2V319.6M197.5 309.4V317.0M198.5 308.3V315.2M199.5 308.7V319.1M200.5 308.8V316.6M201.5 308.2V323.3M202.5 305.0V316.5M203.5 306.4V315.2M204.5 306.2V317.3M205.5 307.5V318.8M206.5 304.5V316.0M207.5 306.3V320.2M208.5 305.2V321.1M209.5 308.0V316.6M210.5 306.5V318.3M211.5 305.5V317.4M212.5 309.0V319.0M213.5 306.2V315.6M214.5 304.2V317.7M215.5 309.3V316.9M216.5 303.8V316.8M217.5 305.7V314.1M218.5 307.7V316.1M219.5 307.6V319.9M220.5 305.7V316.7M221.5 305.7V314.8M222.5 307.2V315.8M223.5 308.1V318.7M224.5 305.7V316.8M225.5 305.9V316.7M226.5 303.1V318.9M227.5 304.7V317.1M228.5 304.5V317.0M229.5 304.8V316.3M230.5 305.4V316.9M231.5 306.7V316.4M232.5 305.7V317.4M233.5 305.8V315.8M234.5 305.7V315.2M235.5 307.3V318.6M236.5 306.6V315.3M237.5 305.7V321.4M238.5 305.5V315.1M239.5 304.0V315.1M240.5 302.7V316.2M241.5 304.6V317.1M242.5 305.3V317.7M243.5 306.0V318.1M244.5 306.3V319.9M245.5 307.3V325.1M246.5 309.0V316.5M247.5 308.6V316.7M248.5 305.0V317.3M249.5 307.6V318.4M250.5 305.8V318.3M251.5 300.4V318.2M252.5 308.9V318.1M253.5 303.6V317.3M254.5 304.0V318.5M255.5 306.1V320.3M256.5 294.7V324.7M257.5 306.6V321.8M258.5 302.2V315.4M259.5 306.2V319.7M260.5 298.4V316.9M261.5 304.4V316.4M262.5 299.9V316.3M263.5 308.2V314.5M264.5 303.3V317.1M265.5 301.8V316.2M266.5 306.9V321.2M267.5 302.1V321.2M268.5 302.3V319.5M269.5 309.1V321.1M270.5 304.8V316.0M271.5 307.6V318.1M272.5 298.9V318.6M273.5 309.4V318.2M274.5 307.4V315.1M275.5 305.3V318.6M276.5 302.9V320.1M277.5 306.1V318.1M278.5 307.1V320.4M279.5 306.7V315.0M280.5 306.6V319.9M281.5 305.3V319.5M282.5 301.9V316.4M283.5 306.4V318.3M284.5 306.4V315.4M285.5 305.7V315.6M286.5 307.3V316.3M287.5 308.7V320.0M288.5 302.7V319.4M289.5 305.7V318.8M290.5 306.3V314.3M291.5 303.0V315.0M292.5 307.6V320.4M293.5 308.8V317.0M294.5 309.2V317.5M295.5 309.0V319.2M296.5 309.9V317.2M297.5 307.7V316.3M298.5 305.3V313.8M299.5 304.4V316.3M300.5 306.9V319.1M301.5 308.8V316.9M302.5 305.9V317.4M303.5 308.3V314.2M304.5 305.3V316.8M305.5 305.6V315.2M306.5 306.5V319.4M307.5 306.8V318.9M308.5 306.6V320.4M309.5 306.9V315.8M310.5 306.5V319.4M311.5 307.7V319.1M312.5 309.0V317.3M313.5 307.6V315.9M314.5 276.0V381.0M315.5 284.0V330.0M316.5 290.0V326.0M317.5 296.0V328.0M318.5 304.8V317.1M319.5 299.0V327.0M320.5 309.9V315.5M321.5 308.0V315.8M322.5 301.0V325.0M323.5 304.7V317.2M324.5 301.0V317.3M325.5 308.9V315.7M326.5 307.7V318.5M327.5 305.4V317.4M328.5 307.0V315.9M329.5 303.6V314.6M330.5 300.7V316.3M331.5 307.7V316.6M332.5 309.4V315.6M333.5 304.2V317.4M334.5 305.1V322.2M335.5 305.1V321.1M336.5 308.2V318.2M337.5 305.7V317.2M338.5 307.0V315.6M339.5 304.0V316.6M340.5 305.8V315.6M341.5 306.2V316.2M342.5 306.2V318.1M343.5 307.0V316.6M344.5 307.7V317.4M345.5 300.3V318.5M346.5 305.9V318.2M347.5 306.0V320.1M348.5 302.1V315.8M349.5 304.9V318.4M350.5 308.9V317.4M351.5 304.7V316.1M352.5 308.7V315.6M353.5 305.1V317.3M354.5 307.1V317.2M355.5 305.6V320.8M356.5 305.0V317.1M357.5 304.1V321.3M358.5 307.4V317.3M359.5 308.5V317.2M360.5 307.1V315.4M361.5 305.4V321.7M362.5 307.3V316.6M363.5 305.0V322.2M364.5 306.8V316.9M365.5 308.8V317.4M366.5 306.1V316.4M367.5 304.0V317.1M368.5 305.7V318.5M369.5 308.7V317.2M370.5 306.9V317.5M371.5 305.7V320.3M372.5 300.2V319.5M373.5 306.6V320.2M374.5 305.8V321.0M375.5 303.6V317.6M376.5 305.0V323.2M377.5 301.5V325.6M378.5 305.7V321.0M379.5 305.4V324.3M380.5 304.6V315.0M381.5 304.5V317.3M382.5 298.8V314.8M383.5 304.0V318.9M384.5 304.1V316.3M385.5 307.9V322.5M386.5 308.4V321.1M387.5 301.1V318.3M388.5 299.8V315.6M389.5 297.3V321.1M390.5 302.7V322.1M391.5 302.1V316.3M392.5 306.4V320.1M393.5 303.3V316.0M394.5 296.6V322.3M395.5 306.9V324.3M396.5 304.6V320.4M397.5 302.5V319.8M398.5 302.9V319.5M399.5 306.9V315.3M400.5 308.2V316.3M401.5 304.1V316.8M402.5 302.3V319.3M403.5 306.1V321.7M404.5 307.8V315.6M405.5 308.2V317.3M406.5 307.6V319.4M407.5 307.2V316.2M408.5 308.0V317.8M409.5 305.8V318.4M410.5 306.4V316.8M411.5 301.6V320.4M412.5 305.4V316.5M413.5 305.4V317.2M414.5 306.9V317.0M415.5 301.8V316.8M416.5 307.8V317.9M417.5 306.1V320.4M418.5 308.0V317.7M419.5 304.6V319.1M420.5 306.8V316.2M421.5 307.0V315.7M422.5 307.4V314.1M423.5 302.1V319.3M424.5 308.2V315.4M425.5 302.8V319.1M426.5 305.3V316.0M427.5 304.3V318.2M428.5 306.4V316.9M429.5 306.1V315.2M430.5 304.8V316.4M431.5 304.2V321.1M432.5 306.0V318.1M433.5 302.0V316.2M434.5 307.1V318.9M435.5 311.1V320.8M436.5 304.5V319.2M437.5 306.4V316.8M438.5 308.7V313.7M439.5 305.9V316.9M440.5 305.0V318.7M441.5 303.8V314.0M442.5 305.8V317.4M443.5 306.6V319.6M444.5 307.0V316.7M445.5 307.9V318.7M446.5 307.0V315.2M447.5 306.1V319.0M448.5 303.9V320.7M449.5 308.3V315.8M450.5 308.2V317.5M451.5 305.7V318.1M452.5 306.5V318.0M453.5 310.0V315.5M454.5 304.8V316.4M455.5 306.3V318.7M456.5 305.5V319.4M457.5 305.7V318.1M458.5 308.7V316.4M459.5 310.5V321.9M460.5 307.4V316.8M461.5 303.6V317.1M462.5 306.4V315.5M463.5 304.0V317.3M464.5 307.6V319.6M465.5 306.2V316.0M466.5 300.5V316.2M467.5 300.0V338.0M468.5 292.0V333.0M469.5 280.0V325.0M470.5 297.0V322.0M471.5 303.5V318.2M472.5 303.4V318.3M473.5 306.4V320.4M474.5 304.4V315.7M475.5 306.4V315.8M476.5 305.5V317.5M477.5 308.3V321.8M478.5 312.0V322.6M479.5 308.5V317.6M480.5 306.0V323.0M481.5 307.6V326.2M482.5 308.8V321.0M483.5 304.1V317.9M484.5 303.4V325.6M485.5 308.9V318.5M486.5 306.8V322.5M487.5 305.2V322.0M488.5 307.2V324.9M489.5 306.6V318.4M490.5 307.3V316.2M491.5 301.9V321.2M492.5 307.4V315.1M493.5 305.6V320.0M494.5 307.4V322.3M495.5 305.9V319.8M496.5 303.4V320.2M497.5 302.5V319.4M498.5 303.9V320.1M499.5 309.7V316.3M500.5 304.7V322.3M501.5 303.5V325.2M502.5 303.6V317.7M503.5 306.8V319.9M504.5 307.3V317.5M505.5 307.5V313.9M506.5 306.9V317.8M507.5 304.5V317.4M508.5 307.2V321.4M509.5 307.0V318.0M510.5 308.1V318.7M511.5 306.9V316.4M512.5 309.6V317.0M513.5 305.7V318.1M514.5 302.6V316.7M515.5 308.0V321.5M516.5 306.2V316.4M517.5 306.1V316.9M518.5 311.9V320.6M519.5 302.5V315.9M520.5 300.7V318.3M521.5 303.9V323.8M522.5 307.8V317.9M523.5 306.7V318.0M524.5 305.4V322.1M525.5 309.1V316.7M526.5 307.7V320.4M527.5 303.5V316.6M528.5 306.8V316.0M529.5 308.3V318.4M530.5 306.0V321.6M531.5 305.8V316.1M532.5 303.0V313.9M533.5 305.3V320.0M534.5 306.8V317.3M535.5 303.8V316.5M536.5 304.9V315.5M537.5 309.5V321.0M538.5 302.3V317.4M539.5 302.6V314.1M540.5 303.5V314.8M541.5 306.8V315.0M542.5 302.9V318.3M543.5 309.2V315.6M544.5 303.7V319.2M545.5 297.4V317.4M546.5 307.9V320.7M547.5 303.5V322.6M548.5 305.1V318.3M549.5 300.1V319.2M550.5 303.6V320.3M551.5 304.1V319.2M552.5 308.4V320.0M553.5 305.1V320.3M554.5 303.0V319.8M555.5 307.2V315.7M556.5 304.2V323.9M557.5 305.4V320.1M558.5 303.7V319.1M559.5 301.6V317.9M560.5 302.5V318.1M561.5 305.9V319.2M562.5 302.8V319.9M563.5 307.1V319.2M564.5 305.0V318.6M565.5 307.8V319.5M566.5 305.0V317.4M567.5 303.9V316.8M568.5 307.1V317.2M569.5 307.7V314.4M570.5 305.1V316.5M571.5 307.1V320.8M572.5 303.0V319.8M573.5 305.5V320.8M574.5 308.9V319.4M575.5 301.5V318.3M576.5 308.2V316.2M577.5 308.4V316.8M578.5 310.2V314.9M579.5 306.3V318.3M580.5 308.6V317.5M581.5 307.2V315.1M582.5 303.3V316.1M583.5 307.5V315.8M584.5 306.8V315.7M585.5 305.6V316.1M586.5 308.0V320.3M587.5 306.5V319.3M588.5 308.9V316.0M589.5 304.1V317.7M590.5 302.7V318.8M591.5 306.2V314.7M592.5 306.2V318.5M593.5 303.0V317.1M594.5 302.4V315.1M595.5 304.6V320.6M596.5 304.1V314.2M597.5 304.1V315.7M598.5 308.2V320.2M599.5 305.0V313.2M600.5 306.0V316.6M601.5 303.9V313.6M602.5 306.5V316.0M603.5 308.1V317.4M604.5 304.5V316.0M605.5 304.3V321.3M606.5 305.9V315.3M607.5 305.8V316.0M608.5 305.7V315.0M609.5 305.0V313.2M610.5 301.3V314.9M611.5 307.2V317.0M612.5 308.3V317.4M613.5 305.2V317.3M614.5 306.5V318.5M615.5 304.9V317.0M616.5 306.3V315.7M617.5 304.7V315.1M618.5 304.1V316.7M619.5 298.4V319.8M620.5 308.7V318.4M621.5 301.0V317.3M622.5 305.1V320.6M623.5 303.0V316.2M624.5 302.2V314.4M625.5 302.5V316.8M626.5 303.3V317.7M627.5 302.6V318.4M628.5 306.1V321.2M629.5 300.7V322.9M630.5 305.5V315.5M631.5 299.7V320.7M632.5 303.1V315.4M633.5 305.2V316.7M634.5 303.3V321.0M635.5 302.9V315.7M636.5 303.4V317.0M637.5 304.1V320.9M638.5 305.5V325.0M639.5 303.1V319.5M640.5 308.7V320.8M641.5 306.8V319.5M642.5 306.9V316.9M643.5 308.1V316.9M644.5 308.2V323.0M645.5 303.7V318.0M646.5 307.7V320.3M647.5 304.3V319.3M648.5 298.6V316.7M649.5 307.6V315.7M650.5 309.5V318.9M651.5 305.6V317.3M652.5 308.0V319.3M653.5 307.2V317.5M654.5 305.4V319.5M655.5 304.7V314.7M656.5 306.3V317.6M657.5 308.1V315.8M658.5 306.7V316.0M659.5 305.2V319.9M660.5 306.5V316.9M661.5 305.0V316.0M662.5 309.1V317.8M663.5 301.4V314.0M664.5 304.7V320.8M665.5 304.0V321.0M666.5 305.4V317.5M667.5 306.6V315.9M668.5 305.4V321.6M669.5 304.0V319.9M670.5 309.5V316.3M671.5 306.8V318.9M672.5 308.7V324.0M673.5 308.4V315.8M674.5 306.8V324.1M675.5 307.0V316.5M676.5 304.9V319.3M677.5 306.9V319.7M678.5 307.5V318.5M679.5 306.0V317.3M680.5 306.4V314.2M681.5 308.5V314.8M682.5 305.3V317.6M683.5 306.7V317.1M684.5 307.0V315.2M685.5 307.6V316.7M686.5 306.3V316.2M687.5 306.3V318.6M688.5 304.1V314.7M689.5 302.4V317.3M690.5 308.6V317.1M691.5 303.1V315.7M692.5 307.7V316.9M693.5 307.3V322.1M694.5 303.3V317.1M695.5 306.4V319.5M696.5 305.5V318.6M697.5 304.3V317.2M698.5 306.4V317.3M699.5 307.0V315.1M700.5 308.5V314.6M701.5 308.6V318.4M702.5 305.2V316.3M703.5 307.1V314.3M704.5 310.5V316.6M705.5 300.8V315.3M706.5 306.4V316.9M707.5 306.9V316.2M708.5 302.0V319.1M709.5 305.3V319.3M710.5 300.9V319.6M711.5 306.4V315.9M712.5 305.1V316.4M713.5 307.0V316.9M714.5 302.9V316.2M715.5 306.1V316.0M716.5 305.1V315.1M717.5 306.5V315.9M718.5 302.9V318.8M719.5 308.1V317.3M720.5 306.1V318.0M721.5 304.9V317.6M722.5 308.0V317.2M723.5 308.2V319.8M724.5 307.8V318.2M725.5 306.3V315.5"/>
</g>
<g>
<polyline fill="none" stroke="#14b8f4" stroke-width="1.6" points="84.0,80.6 84.5,81.0 85.0,80.7 85.5,80.8 86.0,80.8 86.5,80.7 87.0,80.6 87.5,80.9 88.0,80.9 88.5,80.6 89.0,81.1 89.5,80.9 90.0,80.7 90.5,80.9 91.0,80.8 91.5,80.8 92.0,80.9 92.5,80.7 93.0,80.9 93.5,81.0 94.0,81.0 94.5,80.8 95.0,81.0 95.5,80.7 96.0,80.8 96.5,80.9 97.0,80.7 97.5,80.9 98.0,81.1 98.5,81.2 99.0,81.0 99.5,81.0 100.0,80.8 100.5,80.7 101.0,80.7 101.5,80.9 102.0,81.0 102.5,80.8 103.0,80.7 103.5,80.9 104.0,80.9 104.5,80.9 105.0,81.0 105.5,80.9 106.0,80.9 106.5,80.8 107.0,80.9 107.5,81.1 108.0,81.0 108.5,81.0 109.0,81.0 109.5,81.0 110.0,81.1 110.5,81.1 111.0,81.1 111.5,80.9 112.0,81.1 112.5,80.9 113.0,81.1 113.5,80.9 114.0,81.1 114.5,81.2 115.0,81.1 115.5,81.1 116.0,80.9 116.5,81.0 117.0,81.2 117.5,81.0 118.0,81.3 118.5,81.0 119.0,81.1 119.5,81.1 120.0,81.2 120.5,81.3 121.0,81.1 121.5,81.2 122.0,81.5 122.5,81.3 123.0,81.2 123.5,81.4 124.0,81.3 124.5,81.3 125.0,81.1 125.5,81.5 126.0,81.3 126.5,81.4 127.0,81.3 127.5,81.5 128.0,81.5 128.5,81.5 129.0,81.4 129.5,81.4 130.0,81.5 130.5,81.5 131.0,81.4 131.5,81.3 132.0,81.3 132.5,81.2 133.0,81.2 133.5,81.3 134.0,81.2 134.5,81.0 135.0,81.2 135.5,81.4 136.0,81.2 136.5,81.0 137.0,81.2 137.5,81.3 138.0,81.2 138.5,81.1 139.0,81.4 139.5,81.4 140.0,81.2 140.5,81.3 141.0,81.2 141.5,81.2 142.0,81.3 142.5,81.2 143.0,81.1 143.5,81.0 144.0,81.0 144.5,81.1 145.0,81.2 145.5,81.1 146.0,81.1 146.5,81.1 147.0,81.0 147.5,81.1 148.0,80.9 148.5,80.8 149.0,80.9 149.5,80.9 150.0,81.2 150.5,81.0 151.0,80.9 151.5,80.8 152.0,81.0 152.5,80.9 153.0,81.1 153.5,81.0 154.0,80.8 154.5,80.9 155.0,80.6 155.5,80.8 156.0,81.0 156.5,81.0 157.0,80.9 157.5,80.8 158.0,80.7 158.5,80.7 159.0,80.8 159.5,81.0 160.0,80.5 160.5,80.9 161.0,80.9 161.5,80.9 162.0,80.7 162.5,80.7 163.0,80.8 163.5,80.7 164.0,80.6 164.5,80.7 165.0,80.8 165.5,80.8 166.0,80.8 166.5,80.8 167.0,80.7 167.5,80.7 168.0,80.9 168.5,80.8 169.0,80.7 169.5,80.9 170.0,80.9 170.5,80.9 171.0,80.8 171.5,80.7 172.0,80.8 172.5,80.8 173.0,80.9 173.5,80.8 174.0,80.8 174.5,80.7 175.0,80.9 175.5,80.5 176.0,80.8 176.5,80.8 177.0,80.6 177.5,81.0 178.0,80.7 178.5,80.7 179.0,80.6 179.5,80.8 180.0,80.7 180.5,80.6 181.0,80.7 181.5,80.8 182.0,80.8 182.5,80.7 183.0,80.6 183.5,80.6 184.0,80.4 184.5,80.6 185.0,80.8 185.5,80.7 186.0,80.7 186.5,80.6 187.0,80.9 187.5,80.7 188.0,80.8 188.5,80.7 189.0,80.6 189.5,80.8 190.0,80.5 190.5,80.5 191.0,80.6 191.5,80.6 192.0,80.6 192.5,80.6 193.0,80.8 193.5,80.6 194.0,80.7 194.5,80.4 195.0,80.5 195.5,80.8 196.0,80.5 196.5,80.8 197.0,80.5 197.5,80.6 198.0,80.5 198.5,80.6 199.0,80.5 199.5,80.6 200.0,80.8 200.5,80.6 201.0,80.9 201.5,80.6 202.0,80.5 202.5,80.6 203.0,80.6 203.5,80.8 204.0,80.7 204.5,80.8 205.0,80.7 205.5,81.0 206.0,80.8 206.5,80.7 207.0,80.6 207.5,80.6 208.0,80.7 208.5,80.8 209.0,80.8 209.5,80.6 210.0,80.8 210.5,80.7 211.0,80.6 211.5,80.8 212.0,80.4 212.5,80.8 213.0,81.0 213.5,80.6 214.0,80.7 214.5,80.5 215.0,80.7 215.5,80.8 216.0,80.6 216.5,80.8 217.0,80.7 217.5,80.7 218.0,80.8 218.5,80.8 219.0,80.9 219.5,80.9 220.0,80.7 220.5,81.0 221.0,81.0 221.5,80.6 222.0,80.9 222.5,80.9 223.0,80.9 223.5,80.9 224.0,80.7 224.5,80.8 225.0,80.6 225.5,80.8 226.0,81.1 226.5,80.9 227.0,81.0 227.5,80.8 228.0,80.8 228.5,80.8 229.0,80.9 229.5,80.8 230.0,80.8 230.5,81.0 231.0,80.7 231.5,80.8 232.0,80.9 232.5,80.9 233.0,80.9 233.5,80.8 234.0,81.0 234.5,80.9 235.0,81.0 235.5,80.8 236.0,81.0 236.5,81.0 237.0,80.9 237.5,80.9 238.0,80.9 238.5,81.1 239.0,80.6 239.5,80.8 240.0,80.8 240.5,81.0 241.0,80.9 241.5,81.0 242.0,81.1 242.5,80.8 243.0,80.9 243.5,81.0 244.0,80.9 244.5,81.1 245.0,81.1 245.5,81.0 246.0,80.9 246.5,81.3 247.0,81.1 247.5,81.2 248.0,81.1 248.5,81.1 249.0,81.2 249.5,81.1 250.0,81.1 250.5,81.2 251.0,81.2 251.5,81.1 252.0,81.1 252.5,81.3 253.0,81.2 253.5,81.4 254.0,81.1 254.5,81.1 255.0,81.2 255.5,81.4 256.0,81.3 256.5,81.3 257.0,81.5 257.5,81.2 258.0,81.2 258.5,81.3 259.0,81.3 259.5,81.5 260.0,81.6 260.5,81.5 261.0,81.7 261.5,81.4 262.0,81.9 262.5,81.7 263.0,82.1 263.5,82.0 264.0,82.3 264.5,82.4 265.0,82.6 265.5,82.8 266.0,82.8 266.5,83.0 267.0,83.1 267.5,83.1 268.0,83.3 268.5,83.5 269.0,84.0 269.5,84.5 270.0,84.7 270.5,84.8 271.0,85.1 271.5,85.6 272.0,85.7 272.5,85.8 273.0,86.2 273.5,86.5 274.0,86.8 274.5,87.3 275.0,87.6 275.5,87.8 276.0,88.2 276.5,88.5 277.0,88.9 277.5,89.2 278.0,90.0 278.5,90.1 279.0,90.6 279.5,91.0 280.0,91.2 280.5,91.7 281.0,92.1 281.5,92.5 282.0,93.2 282.5,93.4 283.0,93.8 283.5,94.4 284.0,95.0 284.5,95.4 285.0,95.6 285.5,96.1 286.0,96.5 286.5,97.0 287.0,97.6 287.5,98.1 288.0,98.1 288.5,98.8 289.0,99.1 289.5,99.7 290.0,100.2 290.5,100.4 291.0,100.9 291.5,101.2 292.0,101.8 292.5,102.0 293.0,102.4 293.5,102.9 294.0,103.5 294.5,104.1 295.0,104.2 295.5,104.4 296.0,104.9 296.5,105.2 297.0,105.7 297.5,105.9 298.0,106.4 298.5,106.8 299.0,107.2 299.5,107.5 300.0,108.1 300.5,108.3 301.0,108.3 301.5,108.9 302.0,109.0 302.5,109.2 303.0,109.8 303.5,109.7 304.0,110.1 304.5,110.2 305.0,110.7 305.5,110.8 306.0,111.1 306.5,111.2 307.0,111.8 307.5,111.6 308.0,112.0 308.5,112.2 309.0,112.4 309.5,112.6 310.0,112.4 310.5,112.8 311.0,112.9 311.5,113.1 312.0,113.3 312.5,113.4 313.0,113.4 313.5,113.7 314.0,113.9 314.5,113.6 315.0,113.7 315.5,113.6 316.0,113.8 316.5,113.5 317.0,113.7 317.5,113.7 318.0,113.7 318.5,114.0 319.0,113.9 319.5,113.6 320.0,114.0 320.5,113.5 321.0,113.3 321.5,113.3 322.0,113.4 322.5,113.4 323.0,113.0 323.5,113.2 324.0,113.1 324.5,113.1 325.0,112.9 325.5,113.0 326.0,112.8 326.5,112.6 327.0,112.7 327.5,112.4 328.0,112.3 328.5,112.3 329.0,111.9 329.5,111.8 330.0,111.6 330.5,111.4 331.0,111.4 331.5,111.3 332.0,111.3 332.5,111.1 333.0,110.8 333.5,110.5 334.0,110.8 334.5,110.5 335.0,110.0 335.5,109.7 336.0,109.5 336.5,109.4 337.0,109.2 337.5,108.9 338.0,108.6 338.5,108.2 339.0,108.0 339.5,107.6 340.0,107.4 340.5,107.0 341.0,106.8 341.5,106.3 342.0,106.1 342.5,105.9 343.0,105.5 343.5,105.2 344.0,104.8 344.5,104.5 345.0,104.2 345.5,103.9 346.0,103.5 346.5,103.4 347.0,103.0 347.5,102.7 348.0,102.3 348.5,101.9 349.0,101.5 349.5,101.4 350.0,100.9 350.5,100.4 351.0,100.0 351.5,100.0 352.0,99.5 352.5,99.3 353.0,98.9 353.5,98.5 354.0,98.2 354.5,97.8 355.0,97.6 355.5,97.4 356.0,97.0 356.5,96.4 357.0,96.2 357.5,95.9 358.0,95.7 358.5,95.5 359.0,95.2 359.5,94.6 360.0,94.6 360.5,94.4 361.0,93.9 361.5,93.9 362.0,93.3 362.5,93.2 363.0,93.1 363.5,92.5 364.0,92.3 364.5,92.2 365.0,92.3 365.5,91.4 366.0,91.4 366.5,91.2 367.0,90.8 367.5,90.5 368.0,90.3 368.5,90.1 369.0,89.7 369.5,89.8 370.0,89.2 370.5,89.0 371.0,88.7 371.5,88.4 372.0,88.2 372.5,87.8 373.0,87.5 373.5,87.5 374.0,87.1 374.5,86.7 375.0,86.5 375.5,86.0 376.0,85.8 376.5,85.3 377.0,85.1 377.5,84.8 378.0,84.8 378.5,84.4 379.0,84.1 379.5,83.8 380.0,83.5 380.5,83.2 381.0,83.0 381.5,82.6 382.0,82.2 382.5,82.1 383.0,82.2 383.5,82.1 384.0,81.9 384.5,81.5 385.0,81.8 385.5,81.5 386.0,81.3 386.5,81.2 387.0,81.0 387.5,81.2 388.0,81.0 388.5,80.6 389.0,80.7 389.5,80.7 390.0,80.9 390.5,80.4 391.0,80.8 391.5,80.9 392.0,80.7 392.5,80.7 393.0,80.8 393.5,80.7 394.0,80.5 394.5,80.6 395.0,80.6 395.5,80.6 396.0,80.7 396.5,80.7 397.0,80.8 397.5,80.9 398.0,81.0 398.5,80.9 399.0,80.7 399.5,81.1 400.0,80.9 400.5,81.1 401.0,80.9 401.5,81.0 402.0,81.0 402.5,81.0 403.0,81.2 403.5,81.0 404.0,81.1 404.5,81.2 405.0,81.1 405.5,80.9 406.0,81.2 406.5,80.9 407.0,81.0 407.5,81.1 408.0,81.2 408.5,81.3 409.0,81.3 409.5,81.2 410.0,81.1 410.5,81.3 411.0,81.1 411.5,81.3 412.0,80.9 412.5,81.0 413.0,81.0 413.5,81.1 414.0,80.8 414.5,81.2 415.0,81.2 415.5,81.2 416.0,81.0 416.5,81.2 417.0,81.0 417.5,81.2 418.0,81.0 418.5,81.0 419.0,81.0 419.5,81.0 420.0,81.2 420.5,81.2 421.0,81.2 421.5,81.1 422.0,81.1 422.5,81.1 423.0,81.2 423.5,80.9 424.0,80.9 424.5,81.0 425.0,80.8 425.5,80.9 426.0,81.0 426.5,80.8 427.0,80.9 427.5,81.0 428.0,80.9 428.5,80.9 429.0,81.1 429.5,80.8 430.0,80.8 430.5,80.9 431.0,81.0 431.5,80.7 432.0,81.0 432.5,80.8 433.0,80.8 433.5,80.8 434.0,80.8 434.5,81.0 435.0,80.9 435.5,80.9 436.0,80.8 436.5,81.0 437.0,81.0 437.5,80.8 438.0,80.5 438.5,80.8 439.0,81.1 439.5,80.8 440.0,80.7 440.5,81.0 441.0,80.7 441.5,80.9 442.0,80.9 442.5,80.7 443.0,80.9 443.5,81.0 444.0,80.8 444.5,81.0 445.0,80.9 445.5,81.0 446.0,81.1 446.5,80.8 447.0,80.9 447.5,81.0 448.0,80.9 448.5,80.9 449.0,80.9 449.5,81.0 450.0,80.9 450.5,81.0 451.0,81.1 451.5,81.1 452.0,81.1 452.5,81.2 453.0,80.9 453.5,81.1 454.0,81.1 454.5,81.2 455.0,80.9 455.5,81.3 456.0,81.0 456.5,81.2 457.0,81.2 457.5,81.3 458.0,81.1 458.5,81.1 459.0,81.2 459.5,81.3 460.0,81.3 460.5,81.2 461.0,81.1 461.5,81.1 462.0,81.4 462.5,81.1 463.0,81.3 463.5,81.3 464.0,81.4 464.5,81.4 465.0,81.5 465.5,81.3 466.0,81.4 466.5,81.1 467.0,81.3 467.5,81.2 468.0,81.3 468.5,81.5 469.0,81.4 469.5,81.5 470.0,81.4 470.5,81.5 471.0,81.4 471.5,81.1 472.0,81.4 472.5,81.4 473.0,81.5 473.5,81.5 474.0,81.5 474.5,81.6 475.0,81.6 475.5,81.5 476.0,81.6 476.5,81.3 477.0,81.5 477.5,81.5 478.0,81.7 478.5,81.5 479.0,81.4 479.5,81.6 480.0,81.8 480.5,81.6 481.0,81.6 481.5,81.6 482.0,81.7 482.5,81.8 483.0,81.9 483.5,81.8 484.0,81.7 484.5,82.0 485.0,81.8 485.5,81.8 486.0,81.7 486.5,81.8 487.0,81.9 487.5,81.9 488.0,82.1 488.5,82.2 489.0,82.3 489.5,82.3 490.0,82.4 490.5,82.6 491.0,82.7 491.5,82.8 492.0,83.0 492.5,82.8 493.0,82.8 493.5,83.3 494.0,83.4 494.5,83.8 495.0,83.8 495.5,83.9 496.0,84.6 496.5,84.6 497.0,84.7 497.5,84.9 498.0,85.3 498.5,85.4 499.0,85.8 499.5,86.1 500.0,86.0 500.5,86.4 501.0,86.9 501.5,87.4 502.0,87.7 502.5,88.0 503.0,88.6 503.5,88.8 504.0,89.3 504.5,89.7 505.0,90.0 505.5,90.9 506.0,91.1 506.5,91.4 507.0,91.7 507.5,92.1 508.0,92.8 508.5,93.3 509.0,93.7 509.5,94.2 510.0,94.8 510.5,95.3 511.0,95.6 511.5,96.4 512.0,96.9 512.5,97.4 513.0,97.8 513.5,98.1 514.0,98.8 514.5,99.4 515.0,100.1 515.5,100.6 516.0,100.9 516.5,101.2 517.0,101.8 517.5,102.4 518.0,102.8 518.5,103.3 519.0,103.9 519.5,104.1 520.0,104.5 520.5,105.1 521.0,105.6 521.5,106.4 522.0,106.5 522.5,106.8 523.0,107.5 523.5,107.9 524.0,108.3 524.5,108.7 525.0,109.2 525.5,109.6 526.0,109.9 526.5,110.5 527.0,110.9 527.5,111.3 528.0,111.7 528.5,112.0 529.0,112.2 529.5,112.6 530.0,113.0 530.5,113.2 531.0,113.7 531.5,114.1 532.0,114.0 532.5,114.6 533.0,114.8 533.5,115.2 534.0,115.6 534.5,115.9 535.0,116.3 535.5,116.5 536.0,116.8 536.5,117.0 537.0,117.3 537.5,117.8 538.0,117.6 538.5,118.4 539.0,118.4 539.5,118.9 540.0,118.8 540.5,119.3 541.0,119.8 541.5,120.0 542.0,120.3 542.5,120.2 543.0,120.4 543.5,120.6 544.0,121.0 544.5,121.1 545.0,121.3 545.5,121.4 546.0,121.6 546.5,121.9 547.0,121.9 547.5,122.2 548.0,122.4 548.5,122.5 549.0,122.6 549.5,122.9 550.0,122.8 550.5,123.0 551.0,123.2 551.5,123.3 552.0,123.3 552.5,123.5 553.0,123.3 553.5,123.4 554.0,123.6 554.5,123.8 555.0,123.9 555.5,124.1 556.0,124.1 556.5,123.9 557.0,124.0 557.5,123.8 558.0,124.0 558.5,123.8 559.0,124.1 559.5,123.9 560.0,124.1 560.5,123.8 561.0,124.2 561.5,124.1 562.0,124.2 562.5,124.0 563.0,123.8 563.5,123.9 564.0,123.8 564.5,124.2 565.0,123.9 565.5,123.9 566.0,124.0 566.5,124.0 567.0,124.0 567.5,123.9 568.0,123.7 568.5,123.8 569.0,123.7 569.5,124.1 570.0,124.0 570.5,123.9 571.0,124.0 571.5,124.0 572.0,124.0 572.5,124.0 573.0,124.0 573.5,123.9 574.0,123.6 574.5,123.5 575.0,124.0 575.5,123.9 576.0,123.5 576.5,123.7 577.0,123.6 577.5,123.6 578.0,123.3 578.5,123.7 579.0,123.6 579.5,123.6 580.0,123.6 580.5,123.6 581.0,123.5 581.5,123.2 582.0,123.0 582.5,122.8 583.0,122.8 583.5,122.5 584.0,122.3 584.5,122.4 585.0,122.2 585.5,121.6 586.0,121.6 586.5,121.7 587.0,121.4 587.5,121.4 588.0,120.9 588.5,120.6 589.0,120.3 589.5,120.0 590.0,119.4 590.5,119.2 591.0,118.8 591.5,118.5 592.0,118.1 592.5,117.9 593.0,117.4 593.5,116.9 594.0,116.6 594.5,116.0 595.0,115.7 595.5,115.3 596.0,114.6 596.5,113.9 597.0,113.6 597.5,113.1 598.0,112.7 598.5,112.1 599.0,111.7 599.5,111.1 600.0,110.9 600.5,110.2 601.0,109.7 601.5,109.2 602.0,108.5 602.5,108.0 603.0,107.4 603.5,106.8 604.0,106.3 604.5,105.8 605.0,105.0 605.5,104.5 606.0,104.0 606.5,103.4 607.0,103.1 607.5,102.4 608.0,101.8 608.5,101.3 609.0,100.8 609.5,100.0 610.0,99.7 610.5,98.7 611.0,98.3 611.5,98.0 612.0,97.5 612.5,96.8 613.0,96.1 613.5,95.7 614.0,95.0 614.5,94.8 615.0,94.3 615.5,93.9 616.0,93.3 616.5,93.1 617.0,92.6 617.5,92.2 618.0,91.8 618.5,91.4 619.0,91.1 619.5,90.8 620.0,90.4 620.5,90.3 621.0,89.5 621.5,89.2 622.0,88.6 622.5,88.2 623.0,87.7 623.5,87.5 624.0,87.0 624.5,86.5 625.0,86.1 625.5,85.8 626.0,85.2 626.5,84.9 627.0,84.7 627.5,83.9 628.0,83.5 628.5,83.2 629.0,83.1 629.5,82.7 630.0,82.3 630.5,82.0 631.0,81.8 631.5,81.3 632.0,81.4 632.5,80.8 633.0,80.5 633.5,80.3 634.0,80.1 634.5,80.0 635.0,80.1 635.5,80.0 636.0,79.8 636.5,80.1 637.0,79.8 637.5,79.8 638.0,79.8 638.5,79.5 639.0,79.9 639.5,79.7 640.0,79.5 640.5,79.5 641.0,79.9 641.5,80.1 642.0,80.1 642.5,80.4 643.0,80.2 643.5,80.4 644.0,80.5 644.5,80.4 645.0,80.6 645.5,80.7 646.0,80.9 646.5,81.0 647.0,81.0 647.5,80.9 648.0,81.2 648.5,81.3 649.0,81.3 649.5,81.5 650.0,81.5 650.5,81.7 651.0,81.6 651.5,81.8 652.0,81.8 652.5,81.8 653.0,81.8 653.5,81.8 654.0,81.8 654.5,81.9 655.0,82.0 655.5,82.1 656.0,82.1 656.5,82.0 657.0,82.2 657.5,82.0 658.0,82.2 658.5,82.2 659.0,82.1 659.5,82.1 660.0,82.3 660.5,82.2 661.0,82.2 661.5,82.6 662.0,82.3 662.5,82.2 663.0,82.3 663.5,82.1 664.0,82.2 664.5,82.3 665.0,82.1 665.5,82.2 666.0,82.2 666.5,82.2 667.0,82.0 667.5,82.4 668.0,82.2 668.5,82.3 669.0,82.1 669.5,82.1 670.0,82.2 670.5,82.2 671.0,82.3 671.5,82.1 672.0,82.1 672.5,82.2 673.0,82.3 673.5,82.3 674.0,82.2 674.5,82.2 675.0,82.1 675.5,82.4 676.0,82.3 676.5,82.3 677.0,82.0 677.5,82.3 678.0,82.1 678.5,82.3 679.0,82.3 679.5,82.4 680.0,82.2 680.5,82.2 681.0,82.1 681.5,82.1 682.0,82.3 682.5,82.1 683.0,82.3 683.5,82.2 684.0,82.1 684.5,82.3 685.0,82.3 685.5,82.1 686.0,82.2 686.5,82.2 687.0,82.3 687.5,82.1 688.0,82.2 688.5,82.2 689.0,82.3 689.5,82.3 690.0,82.1 690.5,82.4 691.0,82.3 691.5,82.1 692.0,82.0 692.5,82.1 693.0,81.9 693.5,82.2 694.0,82.3 694.5,82.4 695.0,82.3 695.5,82.0 696.0,82.2 696.5,82.3 697.0,81.9 697.5,82.1 698.0,82.3 698.5,82.2 699.0,82.0 699.5,82.1 700.0,82.2 700.5,82.5 701.0,82.2 701.5,82.1 702.0,82.2 702.5,82.2 703.0,82.3 703.5,82.4 704.0,82.2 704.5,82.0 705.0,82.2 705.5,82.2 706.0,82.3 706.5,82.3 707.0,82.1 707.5,82.3 708.0,82.3 708.5,82.2 709.0,82.3 709.5,82.2 710.0,82.2 710.5,82.2 711.0,82.3 711.5,82.6 712.0,82.2 712.5,82.1 713.0,82.2 713.5,82.1 714.0,82.2 714.5,82.2 715.0,82.5 715.5,82.3 716.0,82.4 716.5,82.1 717.0,82.2 717.5,82.5 718.0,82.0 718.5,82.2 719.0,82.0 719.5,82.4 720.0,82.0 720.5,82.2 721.0,82.2 721.5,82.0 722.0,82.5 722.5,82.2 723.0,82.4 723.5,82.1 724.0,82.0 724.5,82.2 725.0,82.2 725.5,82.6 726.0,82.1"/>
<polyline fill="none" stroke="#dc1450" stroke-width="1.35" points="84.0,164.4 84.5,164.3 85.0,164.3 85.5,164.2 86.0,164.2 86.5,164.5 87.0,164.4 87.5,164.3 88.0,164.6 88.5,164.3 89.0,164.3 89.5,164.2 90.0,164.3 90.5,164.5 91.0,164.5 91.5,164.3 92.0,164.6 92.5,164.4 93.0,164.4 93.5,164.6 94.0,164.5 94.5,164.3 95.0,164.2 95.5,164.6 96.0,164.0 96.5,164.3 97.0,164.1 97.5,164.3 98.0,164.5 98.5,164.4 99.0,164.3 99.5,164.4 100.0,164.7 100.5,164.6 101.0,164.4 101.5,164.3 102.0,164.3 102.5,164.5 103.0,164.4 103.5,164.4 104.0,164.3 104.5,164.2 105.0,164.2 105.5,164.5 106.0,164.3 106.5,164.8 107.0,164.5 107.5,164.5 108.0,164.6 108.5,164.3 109.0,164.2 109.5,164.4 110.0,164.5 110.5,164.5 111.0,164.7 111.5,164.6 112.0,164.6 112.5,164.6 113.0,164.5 113.5,164.6 114.0,164.4 114.5,164.4 115.0,164.6 115.5,164.2 116.0,164.7 116.5,164.7 117.0,164.4 117.5,164.6 118.0,164.5 118.5,164.3 119.0,164.5 119.5,164.5 120.0,164.6 120.5,164.4 121.0,164.5 121.5,164.4 122.0,164.6 122.5,164.5 123.0,164.6 123.5,164.4 124.0,164.5 124.5,164.3 125.0,164.4 125.5,164.6 126.0,164.4 126.5,164.5 127.0,164.6 127.5,164.4 128.0,164.8 128.5,164.4 129.0,164.4 129.5,164.8 130.0,164.2 130.5,164.7 131.0,164.5 131.5,164.6 132.0,164.3 132.5,164.5 133.0,164.3 133.5,164.6 134.0,164.4 134.5,164.4 135.0,164.4 135.5,164.5 136.0,164.6 136.5,164.5 137.0,164.4 137.5,164.4 138.0,164.3 138.5,164.6 139.0,164.6 139.5,164.3 140.0,164.2 140.5,164.5 141.0,164.4 141.5,164.6 142.0,164.5 142.5,164.6 143.0,164.6 143.5,164.7 144.0,164.5 144.5,164.6 145.0,164.4 145.5,164.3 146.0,164.5 146.5,164.7 147.0,164.7 147.5,164.5 148.0,164.2 148.5,164.5 149.0,164.5 149.5,164.6 150.0,164.7 150.5,164.4 151.0,164.4 151.5,164.4 152.0,164.4 152.5,164.4 153.0,164.5 153.5,164.4 154.0,164.5 154.5,164.4 155.0,164.4 155.5,164.6 156.0,164.4 156.5,164.5 157.0,164.6 157.5,164.5 158.0,164.3 158.5,164.4 159.0,164.4 159.5,164.6 160.0,164.7 160.5,164.5 161.0,164.5 161.5,164.7 162.0,164.4 162.5,164.5 163.0,164.6 163.5,164.5 164.0,164.5 164.5,164.5 165.0,164.7 165.5,164.6 166.0,164.4 166.5,164.5 167.0,164.6 167.5,164.8 168.0,164.6 168.5,164.5 169.0,164.7 169.5,164.6 170.0,164.5 170.5,164.4 171.0,164.5 171.5,164.6 172.0,164.3 172.5,164.3 173.0,164.6 173.5,164.3 174.0,164.3 174.5,164.5 175.0,164.5 175.5,164.5 176.0,164.5 176.5,164.6 177.0,164.5 177.5,164.4 178.0,164.1 178.5,164.7 179.0,164.6 179.5,164.6 180.0,164.5 180.5,164.4 181.0,164.6 181.5,164.5 182.0,164.3 182.5,164.6 183.0,164.3 183.5,164.4 184.0,164.8 184.5,164.4 185.0,164.5 185.5,164.6 186.0,164.5 186.5,164.3 187.0,164.4 187.5,164.5 188.0,164.3 188.5,164.7 189.0,164.5 189.5,164.6 190.0,164.5 190.5,164.5 191.0,164.4 191.5,164.3 192.0,164.6 192.5,164.5 193.0,164.7 193.5,164.3 194.0,164.5 194.5,164.8 195.0,164.3 195.5,164.3 196.0,164.5 196.5,164.7 197.0,164.3 197.5,164.5 198.0,164.5 198.5,164.4 199.0,164.4 199.5,164.7 200.0,164.5 200.5,164.3 201.0,164.4 201.5,164.5 202.0,164.3 202.5,164.4 203.0,164.4 203.5,164.2 204.0,164.8 204.5,164.2 205.0,164.5 205.5,164.5 206.0,164.4 206.5,164.7 207.0,164.5 207.5,164.4 208.0,164.7 208.5,164.6 209.0,164.3 209.5,164.3 210.0,164.6 210.5,164.5 211.0,164.3 211.5,164.6 212.0,164.3 212.5,164.4 213.0,164.4 213.5,164.2 214.0,164.6 214.5,165.0 215.0,164.6 215.5,164.5 216.0,164.4 216.5,164.5 217.0,164.5 217.5,164.6 218.0,164.4 218.5,164.5 219.0,164.5 219.5,164.6 220.0,164.6 220.5,164.7 221.0,164.4 221.5,164.4 222.0,164.6 222.5,164.4 223.0,164.5 223.5,164.6 224.0,164.5 224.5,164.7 225.0,164.3 225.5,164.7 226.0,164.4 226.5,164.6 227.0,164.3 227.5,164.5 228.0,164.4 228.5,164.8 229.0,164.4 229.5,164.7 230.0,164.4 230.5,164.3 231.0,164.5 231.5,164.7 232.0,164.5 232.5,164.6 233.0,164.5 233.5,164.5 234.0,164.7 234.5,164.5 235.0,164.6 235.5,164.3 236.0,164.5 236.5,164.6 237.0,164.4 237.5,164.2 238.0,164.6 238.5,164.6 239.0,164.5 239.5,164.5 240.0,164.4 240.5,164.5 241.0,164.6 241.5,164.4 242.0,164.3 242.5,164.2 243.0,164.2 243.5,164.1 244.0,164.3 244.5,163.9 245.0,164.0 245.5,164.1 246.0,164.0 246.5,164.0 247.0,163.7 247.5,163.6 248.0,163.1 248.5,162.8 249.0,162.6 249.5,162.6 250.0,162.5 250.5,162.0 251.0,161.7 251.5,161.5 252.0,161.6 252.5,161.1 253.0,160.8 253.5,160.5 254.0,160.3 254.5,160.0 255.0,159.5 255.5,159.0 256.0,158.9 256.5,158.3 257.0,158.2 257.5,157.4 258.0,157.2 258.5,156.9 259.0,156.2 259.5,156.1 260.0,155.8 260.5,155.3 261.0,154.9 261.5,154.3 262.0,153.7 262.5,153.4 263.0,152.7 263.5,152.3 264.0,151.7 264.5,151.4 265.0,150.7 265.5,150.2 266.0,149.5 266.5,149.3 267.0,149.0 267.5,148.0 268.0,147.7 268.5,147.1 269.0,146.2 269.5,145.8 270.0,145.5 270.5,144.7 271.0,144.2 271.5,143.7 272.0,142.9 272.5,142.5 273.0,141.6 273.5,141.1 274.0,140.8 274.5,140.3 275.0,139.8 275.5,138.9 276.0,138.6 276.5,138.0 277.0,138.0 277.5,137.0 278.0,136.5 278.5,136.1 279.0,135.8 279.5,135.2 280.0,134.7 280.5,134.3 281.0,133.8 281.5,133.1 282.0,132.8 282.5,132.8 283.0,132.1 283.5,132.0 284.0,131.5 284.5,131.0 285.0,130.4 285.5,130.2 286.0,129.5 286.5,129.5 287.0,128.8 287.5,128.4 288.0,127.9 288.5,127.6 289.0,127.4 289.5,127.1 290.0,126.8 290.5,126.6 291.0,126.5 291.5,126.4 292.0,126.3 292.5,125.8 293.0,125.5 293.5,125.3 294.0,125.2 294.5,124.7 295.0,124.7 295.5,124.5 296.0,124.3 296.5,124.1 297.0,124.1 297.5,123.7 298.0,123.6 298.5,123.6 299.0,123.6 299.5,123.4 300.0,123.3 300.5,122.9 301.0,122.8 301.5,122.9 302.0,122.9 302.5,122.2 303.0,122.7 303.5,122.5 304.0,122.4 304.5,122.2 305.0,122.1 305.5,122.0 306.0,122.1 306.5,121.9 307.0,121.9 307.5,121.7 308.0,122.0 308.5,121.9 309.0,121.6 309.5,121.8 310.0,121.7 310.5,121.6 311.0,121.7 311.5,121.8 312.0,121.8 312.5,121.6 313.0,121.7 313.5,118.5 314.0,128.5 314.5,123.5 315.0,121.3 315.5,121.5 316.0,121.8 316.5,121.4 317.0,121.5 317.5,121.9 318.0,121.5 318.5,121.7 319.0,121.7 319.5,121.7 320.0,121.9 320.5,121.8 321.0,121.6 321.5,122.0 322.0,121.6 322.5,121.6 323.0,121.7 323.5,121.7 324.0,121.5 324.5,121.7 325.0,121.4 325.5,121.6 326.0,121.6 326.5,121.6 327.0,121.7 327.5,121.8 328.0,121.7 328.5,121.9 329.0,121.7 329.5,121.9 330.0,122.2 330.5,122.0 331.0,122.1 331.5,122.2 332.0,122.4 332.5,122.4 333.0,122.4 333.5,122.3 334.0,122.6 334.5,122.2 335.0,122.7 335.5,122.7 336.0,123.0 336.5,123.0 337.0,123.3 337.5,123.1 338.0,123.0 338.5,123.4 339.0,123.4 339.5,123.6 340.0,123.9 340.5,123.7 341.0,124.0 341.5,124.1 342.0,124.3 342.5,124.0 343.0,124.5 343.5,124.5 344.0,124.7 344.5,124.8 345.0,125.1 345.5,125.4 346.0,125.7 346.5,125.7 347.0,125.6 347.5,126.2 348.0,126.0 348.5,126.3 349.0,126.7 349.5,126.6 350.0,126.9 350.5,126.9 351.0,127.0 351.5,127.3 352.0,127.4 352.5,127.9 353.0,128.1 353.5,128.2 354.0,128.0 354.5,128.6 355.0,128.5 355.5,128.7 356.0,128.8 356.5,128.9 357.0,129.2 357.5,129.5 358.0,129.8 358.5,129.9 359.0,130.0 359.5,130.1 360.0,130.4 360.5,130.9 361.0,130.9 361.5,131.1 362.0,131.0 362.5,131.2 363.0,131.8 363.5,132.0 364.0,132.3 364.5,132.4 365.0,132.5 365.5,132.6 366.0,133.0 366.5,133.0 367.0,133.6 367.5,133.9 368.0,134.3 368.5,134.1 369.0,134.4 369.5,134.9 370.0,135.1 370.5,135.0 371.0,135.5 371.5,135.9 372.0,136.3 372.5,136.8 373.0,137.1 373.5,137.5 374.0,138.0 374.5,138.3 375.0,138.9 375.5,138.9 376.0,139.5 376.5,139.8 377.0,140.3 377.5,140.9 378.0,141.5 378.5,141.6 379.0,142.7 379.5,143.1 380.0,143.7 380.5,144.2 381.0,144.9 381.5,145.4 382.0,145.6 382.5,146.3 383.0,147.0 383.5,147.5 384.0,148.0 384.5,148.8 385.0,149.1 385.5,149.7 386.0,150.2 386.5,150.9 387.0,151.5 387.5,151.9 388.0,152.5 388.5,152.9 389.0,153.7 389.5,153.7 390.0,154.5 390.5,155.2 391.0,155.4 391.5,155.8 392.0,156.4 392.5,157.1 393.0,157.4 393.5,158.1 394.0,158.2 394.5,158.5 395.0,158.8 395.5,159.3 396.0,159.7 396.5,159.8 397.0,160.1 397.5,160.4 398.0,161.0 398.5,161.5 399.0,161.5 399.5,162.0 400.0,162.2 400.5,162.7 401.0,162.5 401.5,163.0 402.0,162.8 402.5,163.0 403.0,163.3 403.5,163.4 404.0,163.5 404.5,163.8 405.0,163.9 405.5,164.2 406.0,164.2 406.5,164.1 407.0,164.4 407.5,164.4 408.0,164.5 408.5,164.9 409.0,164.5 409.5,164.8 410.0,164.8 410.5,165.0 411.0,164.6 411.5,164.6 412.0,164.6 412.5,164.5 413.0,164.9 413.5,164.9 414.0,164.3 414.5,164.5 415.0,164.8 415.5,164.4 416.0,164.5 416.5,164.6 417.0,164.6 417.5,164.6 418.0,164.6 418.5,164.9 419.0,164.2 419.5,164.5 420.0,164.4 420.5,164.6 421.0,164.5 421.5,164.7 422.0,164.6 422.5,164.9 423.0,164.4 423.5,164.5 424.0,164.7 424.5,164.5 425.0,164.6 425.5,164.4 426.0,164.7 426.5,164.6 427.0,164.7 427.5,164.4 428.0,164.5 428.5,164.4 429.0,164.8 429.5,164.3 430.0,164.6 430.5,164.6 431.0,164.8 431.5,164.6 432.0,164.4 432.5,164.6 433.0,164.3 433.5,164.7 434.0,164.5 434.5,164.4 435.0,164.5 435.5,164.6 436.0,164.3 436.5,164.8 437.0,164.4 437.5,164.8 438.0,164.6 438.5,164.8 439.0,164.4 439.5,164.7 440.0,164.5 440.5,164.4 441.0,164.7 441.5,164.5 442.0,164.4 442.5,164.5 443.0,164.4 443.5,164.5 444.0,164.5 444.5,164.7 445.0,164.5 445.5,164.4 446.0,164.6 446.5,164.5 447.0,164.4 447.5,164.3 448.0,164.8 448.5,164.5 449.0,164.8 449.5,164.4 450.0,164.4 450.5,164.8 451.0,164.5 451.5,164.5 452.0,164.5 452.5,164.4 453.0,164.7 453.5,164.3 454.0,164.6 454.5,164.3 455.0,164.9 455.5,164.6 456.0,164.7 456.5,164.2 457.0,164.6 457.5,164.4 458.0,164.4 458.5,164.4 459.0,164.6 459.5,164.5 460.0,164.4 460.5,164.4 461.0,164.4 461.5,164.5 462.0,164.5 462.5,164.4 463.0,164.5 463.5,164.3 464.0,164.6 464.5,164.7 465.0,164.6 465.5,164.9 466.0,164.6 466.5,164.7 467.0,164.9 467.5,164.8 468.0,162.3 468.5,166.8 469.0,164.6 469.5,165.0 470.0,164.9 470.5,164.8 471.0,164.9 471.5,165.1 472.0,165.1 472.5,165.0 473.0,164.9 473.5,164.9 474.0,164.8 474.5,165.1 475.0,164.8 475.5,165.2 476.0,165.4 476.5,165.0 477.0,165.4 477.5,165.3 478.0,165.5 478.5,165.7 479.0,165.5 479.5,165.6 480.0,165.8 480.5,166.0 481.0,166.0 481.5,166.2 482.0,166.7 482.5,166.7 483.0,166.9 483.5,167.4 484.0,167.9 484.5,167.8 485.0,168.1 485.5,168.2 486.0,168.5 486.5,168.7 487.0,169.2 487.5,169.6 488.0,170.1 488.5,170.9 489.0,171.0 489.5,171.9 490.0,172.2 490.5,172.6 491.0,173.3 491.5,173.7 492.0,174.3 492.5,174.8 493.0,175.6 493.5,176.1 494.0,176.8 494.5,177.0 495.0,177.8 495.5,178.6 496.0,179.2 496.5,179.7 497.0,180.3 497.5,181.1 498.0,181.2 498.5,182.0 499.0,182.6 499.5,183.7 500.0,184.0 500.5,184.9 501.0,185.8 501.5,186.2 502.0,187.0 502.5,187.7 503.0,188.5 503.5,189.4 504.0,189.6 504.5,190.4 505.0,191.3 505.5,192.0 506.0,192.1 506.5,192.9 507.0,193.4 507.5,193.9 508.0,194.2 508.5,194.7 509.0,195.5 509.5,196.0 510.0,196.6 510.5,197.0 511.0,197.8 511.5,198.0 512.0,198.8 512.5,198.7 513.0,199.2 513.5,199.6 514.0,199.8 514.5,200.1 515.0,200.6 515.5,201.0 516.0,201.3 516.5,202.1 517.0,202.0 517.5,202.4 518.0,202.6 518.5,202.8 519.0,202.8 519.5,203.3 520.0,203.6 520.5,203.8 521.0,204.0 521.5,203.9 522.0,204.3 522.5,204.7 523.0,204.8 523.5,205.0 524.0,205.0 524.5,205.2 525.0,205.1 525.5,205.5 526.0,205.6 526.5,205.6 527.0,205.9 527.5,205.8 528.0,205.9 528.5,206.0 529.0,206.5 529.5,206.0 530.0,206.4 530.5,206.4 531.0,206.6 531.5,206.5 532.0,206.8 532.5,206.9 533.0,206.7 533.5,206.7 534.0,206.8 534.5,207.0 535.0,206.7 535.5,207.1 536.0,206.9 536.5,207.1 537.0,206.9 537.5,207.3 538.0,207.1 538.5,207.3 539.0,207.0 539.5,207.0 540.0,207.3 540.5,207.3 541.0,207.2 541.5,207.4 542.0,207.3 542.5,207.2 543.0,207.0 543.5,207.0 544.0,207.4 544.5,207.4 545.0,207.2 545.5,207.4 546.0,207.3 546.5,207.4 547.0,207.5 547.5,207.1 548.0,207.4 548.5,207.4 549.0,207.3 549.5,207.4 550.0,207.2 550.5,207.4 551.0,207.5 551.5,207.5 552.0,207.3 552.5,207.5 553.0,207.5 553.5,207.5 554.0,207.4 554.5,207.5 555.0,207.5 555.5,207.8 556.0,207.4 556.5,207.6 557.0,207.5 557.5,207.3 558.0,207.6 558.5,207.7 559.0,207.6 559.5,207.6 560.0,207.4 560.5,207.6 561.0,207.3 561.5,207.8 562.0,207.8 562.5,207.4 563.0,207.5 563.5,207.4 564.0,207.5 564.5,207.5 565.0,207.4 565.5,207.5 566.0,207.7 566.5,207.6 567.0,207.7 567.5,207.6 568.0,207.6 568.5,207.4 569.0,207.8 569.5,207.5 570.0,207.6 570.5,207.5 571.0,207.8 571.5,207.5 572.0,207.8 572.5,208.0 573.0,207.8 573.5,207.4 574.0,207.9 574.5,207.8 575.0,207.8 575.5,207.8 576.0,207.9 576.5,207.9 577.0,207.8 577.5,207.6 578.0,207.8 578.5,207.9 579.0,207.5 579.5,207.8 580.0,207.5 580.5,207.9 581.0,208.0 581.5,207.9 582.0,207.6 582.5,207.8 583.0,207.9 583.5,207.9 584.0,207.8 584.5,207.8 585.0,207.4 585.5,207.5 586.0,207.6 586.5,207.5 587.0,207.2 587.5,207.4 588.0,207.3 588.5,207.5 589.0,207.5 589.5,207.2 590.0,207.2 590.5,207.4 591.0,207.2 591.5,207.3 592.0,207.1 592.5,207.1 593.0,207.4 593.5,207.2 594.0,207.1 594.5,207.4 595.0,207.1 595.5,207.1 596.0,207.0 596.5,207.3 597.0,206.8 597.5,206.7 598.0,206.3 598.5,206.3 599.0,206.2 599.5,205.7 600.0,205.8 600.5,205.8 601.0,205.7 601.5,205.3 602.0,205.4 602.5,204.8 603.0,204.9 603.5,204.7 604.0,204.2 604.5,204.4 605.0,203.9 605.5,203.8 606.0,203.6 606.5,203.1 607.0,203.2 607.5,202.7 608.0,202.3 608.5,202.2 609.0,201.9 609.5,201.4 610.0,201.2 610.5,201.1 611.0,200.8 611.5,200.2 612.0,200.3 612.5,200.0 613.0,199.7 613.5,199.2 614.0,198.9 614.5,198.7 615.0,198.3 615.5,198.0 616.0,197.5 616.5,197.2 617.0,196.7 617.5,196.4 618.0,196.0 618.5,195.5 619.0,195.0 619.5,194.9 620.0,194.4 620.5,193.9 621.0,193.3 621.5,193.1 622.0,192.5 622.5,192.2 623.0,191.7 623.5,191.7 624.0,190.9 624.5,190.3 625.0,190.2 625.5,189.6 626.0,189.1 626.5,188.0 627.0,187.7 627.5,187.2 628.0,186.5 628.5,186.2 629.0,185.8 629.5,185.3 630.0,184.7 630.5,184.0 631.0,183.7 631.5,183.0 632.0,182.0 632.5,181.8 633.0,181.2 633.5,180.8 634.0,180.1 634.5,179.6 635.0,179.3 635.5,178.4 636.0,177.7 636.5,177.4 637.0,176.9 637.5,176.3 638.0,175.7 638.5,175.1 639.0,174.4 639.5,173.9 640.0,173.4 640.5,173.3 641.0,172.6 641.5,172.4 642.0,171.8 642.5,171.2 643.0,170.9 643.5,170.5 644.0,170.2 644.5,169.3 645.0,169.1 645.5,168.8 646.0,168.2 646.5,168.0 647.0,167.8 647.5,167.9 648.0,167.7 648.5,167.0 649.0,167.0 649.5,166.9 650.0,166.9 650.5,166.7 651.0,166.5 651.5,166.5 652.0,166.4 652.5,166.1 653.0,165.9 653.5,166.0 654.0,165.8 654.5,166.0 655.0,166.0 655.5,165.7 656.0,166.1 656.5,165.8 657.0,165.9 657.5,165.8 658.0,165.7 658.5,165.8 659.0,165.5 659.5,165.6 660.0,165.5 660.5,165.7 661.0,165.6 661.5,165.6 662.0,165.5 662.5,165.7 663.0,165.7 663.5,165.6 664.0,165.6 664.5,165.9 665.0,165.9 665.5,165.5 666.0,165.8 666.5,165.7 667.0,165.7 667.5,165.7 668.0,165.4 668.5,166.0 669.0,166.0 669.5,165.7 670.0,165.7 670.5,165.7 671.0,165.6 671.5,165.8 672.0,165.7 672.5,165.5 673.0,165.6 673.5,165.6 674.0,165.6 674.5,165.6 675.0,165.8 675.5,165.6 676.0,165.5 676.5,165.9 677.0,165.6 677.5,165.9 678.0,165.8 678.5,165.8 679.0,165.6 679.5,165.7 680.0,165.7 680.5,165.7 681.0,165.8 681.5,165.7 682.0,165.9 682.5,165.5 683.0,165.6 683.5,165.8 684.0,165.8 684.5,165.9 685.0,166.0 685.5,165.8 686.0,165.9 686.5,165.8 687.0,165.8 687.5,165.8 688.0,165.8 688.5,165.7 689.0,165.8 689.5,166.0 690.0,166.0 690.5,166.1 691.0,165.9 691.5,166.0 692.0,166.1 692.5,166.0 693.0,166.0 693.5,166.2 694.0,166.1 694.5,166.4 695.0,166.3 695.5,166.2 696.0,166.2 696.5,166.5 697.0,166.4 697.5,166.3 698.0,166.2 698.5,166.3 699.0,166.5 699.5,166.8 700.0,166.5 700.5,166.7 701.0,166.7 701.5,166.2 702.0,166.5 702.5,166.9 703.0,166.5 703.5,167.0 704.0,166.9 704.5,166.7 705.0,167.3 705.5,167.0 706.0,167.3 706.5,167.2 707.0,167.1 707.5,167.4 708.0,167.6 708.5,167.5 709.0,167.2 709.5,167.5 710.0,167.3 710.5,167.4 711.0,167.8 711.5,167.4 712.0,168.0 712.5,167.5 713.0,167.6 713.5,167.9 714.0,167.8 714.5,167.9 715.0,167.8 715.5,168.1 716.0,168.1 716.5,168.1 717.0,168.0 717.5,168.0 718.0,168.2 718.5,167.9 719.0,168.2 719.5,168.5 720.0,168.5 720.5,168.4 721.0,168.1 721.5,168.6 722.0,168.7 722.5,168.7 723.0,168.9 723.5,168.9 724.0,168.5 724.5,168.8 725.0,168.8 725.5,169.2 726.0,169.1"/>
<polyline fill="none" stroke="#0e1eb0" stroke-width="1.6" points="84.0,147.6 84.5,147.7 85.0,147.8 85.5,147.9 86.0,147.6 86.5,147.7 87.0,147.8 87.5,147.9 88.0,147.6 88.5,147.7 89.0,147.3 89.5,147.5 90.0,147.7 90.5,147.6 91.0,147.6 91.5,147.8 92.0,147.5 92.5,147.4 93.0,147.6 93.5,147.6 94.0,147.4 94.5,147.7 95.0,147.8 95.5,147.4 96.0,147.3 96.5,147.5 97.0,147.6 97.5,147.4 98.0,147.3 98.5,147.3 99.0,147.4 99.5,147.4 100.0,147.3 100.5,147.5 101.0,147.7 101.5,147.2 102.0,147.5 102.5,147.3 103.0,147.7 103.5,147.1 104.0,147.2 104.5,147.3 105.0,147.0 105.5,147.2 106.0,147.3 106.5,147.0 107.0,147.2 107.5,147.4 108.0,147.0 108.5,147.0 109.0,146.7 109.5,147.0 110.0,146.8 110.5,147.1 111.0,147.2 111.5,147.1 112.0,146.8 112.5,147.0 113.0,146.8 113.5,146.7 114.0,146.8 114.5,146.9 115.0,146.8 115.5,146.9 116.0,147.1 116.5,146.9 117.0,146.9 117.5,146.6 118.0,146.9 118.5,146.7 119.0,146.8 119.5,146.5 120.0,146.7 120.5,146.2 121.0,146.5 121.5,146.4 122.0,146.4 122.5,146.8 123.0,146.3 123.5,146.4 124.0,146.4 124.5,146.5 125.0,146.6 125.5,146.1 126.0,146.3 126.5,146.2 127.0,146.4 127.5,146.5 128.0,146.3 128.5,146.3 129.0,146.3 129.5,146.5 130.0,146.7 130.5,146.6 131.0,146.5 131.5,146.5 132.0,146.5 132.5,146.4 133.0,147.0 133.5,146.8 134.0,146.7 134.5,147.2 135.0,146.9 135.5,147.1 136.0,147.0 136.5,147.2 137.0,147.0 137.5,147.0 138.0,147.2 138.5,147.2 139.0,147.3 139.5,147.2 140.0,147.2 140.5,147.2 141.0,147.4 141.5,147.3 142.0,147.4 142.5,147.5 143.0,147.6 143.5,147.6 144.0,147.5 144.5,147.4 145.0,147.7 145.5,147.8 146.0,147.7 146.5,147.9 147.0,148.0 147.5,147.9 148.0,148.0 148.5,147.9 149.0,148.0 149.5,148.0 150.0,147.9 150.5,148.3 151.0,147.8 151.5,148.3 152.0,148.5 152.5,148.5 153.0,148.2 153.5,148.5 154.0,148.3 154.5,148.5 155.0,148.9 155.5,148.7 156.0,148.9 156.5,148.6 157.0,148.5 157.5,148.8 158.0,149.1 158.5,149.0 159.0,149.0 159.5,148.8 160.0,148.8 160.5,148.8 161.0,149.3 161.5,148.8 162.0,149.1 162.5,148.8 163.0,149.0 163.5,148.6 164.0,148.7 164.5,148.8 165.0,148.6 165.5,148.7 166.0,148.7 166.5,148.6 167.0,148.9 167.5,148.8 168.0,148.5 168.5,148.9 169.0,148.6 169.5,148.6 170.0,148.6 170.5,148.7 171.0,148.7 171.5,148.5 172.0,148.6 172.5,148.4 173.0,148.8 173.5,148.4 174.0,148.4 174.5,148.4 175.0,148.5 175.5,148.6 176.0,148.4 176.5,148.5 177.0,148.4 177.5,148.6 178.0,148.4 178.5,148.1 179.0,148.6 179.5,148.4 180.0,148.6 180.5,148.2 181.0,148.2 181.5,148.3 182.0,148.1 182.5,148.2 183.0,148.4 183.5,148.3 184.0,147.9 184.5,148.4 185.0,148.2 185.5,148.3 186.0,148.2 186.5,148.2 187.0,148.1 187.5,148.1 188.0,147.9 188.5,148.2 189.0,148.1 189.5,148.1 190.0,148.1 190.5,148.0 191.0,148.0 191.5,147.8 192.0,148.0 192.5,148.0 193.0,147.9 193.5,147.7 194.0,148.1 194.5,147.9 195.0,147.9 195.5,147.8 196.0,147.7 196.5,147.8 197.0,147.6 197.5,147.7 198.0,148.1 198.5,147.9 199.0,148.0 199.5,147.6 200.0,147.4 200.5,147.4 201.0,147.2 201.5,147.8 202.0,147.8 202.5,147.6 203.0,147.6 203.5,147.6 204.0,147.5 204.5,147.6 205.0,147.3 205.5,147.4 206.0,147.4 206.5,147.1 207.0,147.2 207.5,147.4 208.0,147.4 208.5,146.9 209.0,147.4 209.5,147.3 210.0,147.3 210.5,147.2 211.0,147.3 211.5,147.0 212.0,147.1 212.5,147.0 213.0,147.0 213.5,147.2 214.0,147.3 214.5,147.0 215.0,146.9 215.5,147.1 216.0,147.0 216.5,147.2 217.0,147.0 217.5,146.6 218.0,146.9 218.5,146.8 219.0,146.8 219.5,146.9 220.0,146.8 220.5,146.8 221.0,147.0 221.5,146.8 222.0,146.8 222.5,146.8 223.0,146.9 223.5,146.6 224.0,146.9 224.5,146.7 225.0,146.9 225.5,146.9 226.0,146.7 226.5,146.6 227.0,146.6 227.5,146.6 228.0,146.3 228.5,146.5 229.0,146.4 229.5,146.7 230.0,146.8 230.5,146.4 231.0,146.4 231.5,146.3 232.0,146.5 232.5,146.5 233.0,146.7 233.5,146.2 234.0,146.5 234.5,146.3 235.0,146.2 235.5,146.3 236.0,146.2 236.5,146.4 237.0,146.4 237.5,146.6 238.0,146.4 238.5,146.2 239.0,146.4 239.5,146.6 240.0,146.4 240.5,146.5 241.0,146.7 241.5,146.5 242.0,146.8 242.5,146.8 243.0,146.7 243.5,146.8 244.0,146.8 244.5,146.8 245.0,146.8 245.5,146.9 246.0,146.9 246.5,146.9 247.0,146.9 247.5,147.4 248.0,146.9 248.5,147.1 249.0,147.3 249.5,147.3 250.0,147.1 250.5,147.5 251.0,147.5 251.5,147.2 252.0,147.1 252.5,147.4 253.0,147.3 253.5,147.4 254.0,147.3 254.5,147.4 255.0,147.6 255.5,147.7 256.0,147.3 256.5,147.3 257.0,147.8 257.5,147.6 258.0,147.9 258.5,147.9 259.0,148.1 259.5,148.1 260.0,147.9 260.5,148.0 261.0,148.1 261.5,148.2 262.0,148.0 262.5,148.0 263.0,148.3 263.5,148.3 264.0,148.4 264.5,148.3 265.0,148.6 265.5,148.3 266.0,148.6 266.5,148.9 267.0,148.6 267.5,148.9 268.0,149.0 268.5,149.0 269.0,148.8 269.5,149.3 270.0,149.3 270.5,149.6 271.0,149.8 271.5,149.9 272.0,150.3 272.5,150.5 273.0,150.2 273.5,150.6 274.0,150.9 274.5,150.8 275.0,151.6 275.5,151.4 276.0,151.8 276.5,152.0 277.0,152.1 277.5,152.2 278.0,152.5 278.5,152.8 279.0,153.1 279.5,153.2 280.0,153.4 280.5,153.6 281.0,154.1 281.5,154.1 282.0,154.2 282.5,154.3 283.0,154.7 283.5,154.8 284.0,155.1 284.5,155.7 285.0,155.8 285.5,156.0 286.0,156.3 286.5,156.7 287.0,156.5 287.5,157.0 288.0,157.2 288.5,157.5 289.0,157.7 289.5,157.9 290.0,158.3 290.5,158.1 291.0,158.6 291.5,158.8 292.0,158.7 292.5,158.9 293.0,159.5 293.5,159.3 294.0,159.5 294.5,159.6 295.0,159.8 295.5,160.0 296.0,159.9 296.5,160.8 297.0,160.4 297.5,160.7 298.0,160.7 298.5,161.0 299.0,161.0 299.5,161.2 300.0,161.3 300.5,161.3 301.0,161.3 301.5,161.5 302.0,161.3 302.5,161.7 303.0,161.8 303.5,161.8 304.0,161.6 304.5,162.1 305.0,161.8 305.5,162.1 306.0,161.8 306.5,162.1 307.0,162.1 307.5,162.1 308.0,162.2 308.5,162.6 309.0,162.3 309.5,162.5 310.0,162.8 310.5,162.3 311.0,162.8 311.5,162.5 312.0,162.5 312.5,162.6 313.0,162.4 313.5,159.0 314.0,167.0 314.5,163.0 315.0,162.9 315.5,163.0 316.0,162.9 316.5,163.0 317.0,163.0 317.5,163.0 318.0,163.1 318.5,163.0 319.0,163.2 319.5,163.1 320.0,163.2 320.5,163.3 321.0,163.2 321.5,163.1 322.0,163.0 322.5,163.2 323.0,163.2 323.5,163.2 324.0,163.3 324.5,163.2 325.0,163.4 325.5,163.4 326.0,163.2 326.5,163.4 327.0,163.2 327.5,163.5 328.0,163.5 328.5,163.4 329.0,163.5 329.5,163.6 330.0,163.5 330.5,163.1 331.0,163.4 331.5,163.5 332.0,163.6 332.5,163.3 333.0,163.6 333.5,163.5 334.0,163.6 334.5,163.3 335.0,163.4 335.5,163.7 336.0,163.6 336.5,163.5 337.0,163.6 337.5,163.5 338.0,163.4 338.5,163.2 339.0,163.6 339.5,163.4 340.0,163.4 340.5,163.1 341.0,163.3 341.5,163.4 342.0,163.3 342.5,163.2 343.0,163.2 343.5,163.3 344.0,163.3 344.5,163.2 345.0,163.2 345.5,163.2 346.0,163.2 346.5,163.2 347.0,163.3 347.5,163.0 348.0,163.1 348.5,163.2 349.0,163.2 349.5,163.2 350.0,163.4 350.5,163.1 351.0,163.1 351.5,162.9 352.0,162.8 352.5,162.6 353.0,162.4 353.5,162.4 354.0,162.2 354.5,162.3 355.0,162.1 355.5,162.2 356.0,162.2 356.5,162.1 357.0,162.2 357.5,162.2 358.0,162.1 358.5,162.0 359.0,161.9 359.5,161.7 360.0,161.7 360.5,161.6 361.0,161.5 361.5,161.5 362.0,161.2 362.5,161.1 363.0,161.3 363.5,161.4 364.0,161.3 364.5,161.5 365.0,160.6 365.5,160.6 366.0,160.2 366.5,160.3 367.0,160.5 367.5,160.3 368.0,159.8 368.5,159.8 369.0,159.5 369.5,159.3 370.0,159.3 370.5,159.2 371.0,159.1 371.5,159.0 372.0,158.9 372.5,158.9 373.0,158.5 373.5,158.3 374.0,158.2 374.5,158.0 375.0,157.7 375.5,157.4 376.0,157.2 376.5,157.2 377.0,156.7 377.5,156.8 378.0,156.3 378.5,156.4 379.0,156.1 379.5,155.8 380.0,155.6 380.5,155.4 381.0,155.4 381.5,154.8 382.0,154.5 382.5,154.4 383.0,154.2 383.5,153.8 384.0,153.5 384.5,153.3 385.0,152.8 385.5,152.5 386.0,152.1 386.5,152.2 387.0,151.4 387.5,151.3 388.0,151.2 388.5,151.0 389.0,151.0 389.5,150.6 390.0,150.2 390.5,150.3 391.0,150.0 391.5,149.8 392.0,149.6 392.5,149.3 393.0,148.8 393.5,148.6 394.0,148.9 394.5,148.4 395.0,147.9 395.5,148.0 396.0,148.0 396.5,147.8 397.0,147.7 397.5,147.2 398.0,147.5 398.5,147.4 399.0,147.6 399.5,147.3 400.0,147.2 400.5,147.0 401.0,147.0 401.5,147.0 402.0,146.8 402.5,146.6 403.0,146.5 403.5,146.7 404.0,146.6 404.5,146.6 405.0,146.4 405.5,146.5 406.0,146.3 406.5,146.7 407.0,146.8 407.5,146.6 408.0,146.5 408.5,146.6 409.0,146.3 409.5,146.3 410.0,146.7 410.5,146.3 411.0,146.5 411.5,146.4 412.0,146.2 412.5,146.4 413.0,146.6 413.5,146.7 414.0,146.2 414.5,146.3 415.0,146.5 415.5,146.7 416.0,146.7 416.5,146.8 417.0,146.8 417.5,146.5 418.0,146.4 418.5,146.7 419.0,146.6 419.5,146.6 420.0,146.5 420.5,146.5 421.0,146.7 421.5,146.5 422.0,146.4 422.5,146.5 423.0,146.6 423.5,146.6 424.0,146.6 424.5,146.3 425.0,146.5 425.5,146.8 426.0,146.6 426.5,146.6 427.0,146.8 427.5,146.6 428.0,146.8 428.5,146.7 429.0,146.7 429.5,146.8 430.0,147.0 430.5,146.9 431.0,146.6 431.5,146.5 432.0,146.7 432.5,146.7 433.0,146.8 433.5,146.7 434.0,146.8 434.5,146.5 435.0,146.7 435.5,146.8 436.0,147.0 436.5,146.9 437.0,146.8 437.5,146.6 438.0,146.8 438.5,146.8 439.0,146.8 439.5,146.8 440.0,146.9 440.5,146.9 441.0,147.1 441.5,146.6 442.0,146.5 442.5,146.8 443.0,146.6 443.5,146.7 444.0,146.7 444.5,146.6 445.0,146.8 445.5,146.8 446.0,146.7 446.5,146.8 447.0,146.8 447.5,146.6 448.0,146.8 448.5,146.7 449.0,146.7 449.5,146.6 450.0,146.9 450.5,146.7 451.0,146.4 451.5,146.7 452.0,146.2 452.5,146.7 453.0,146.7 453.5,146.8 454.0,146.6 454.5,146.5 455.0,146.9 455.5,146.7 456.0,146.8 456.5,146.5 457.0,146.6 457.5,146.3 458.0,146.6 458.5,146.2 459.0,146.4 459.5,146.3 460.0,146.7 460.5,146.6 461.0,146.4 461.5,146.7 462.0,146.5 462.5,146.2 463.0,146.4 463.5,146.2 464.0,146.5 464.5,146.5 465.0,146.3 465.5,146.5 466.0,146.6 466.5,146.3 467.0,146.5 467.5,146.4 468.0,146.3 468.5,146.6 469.0,146.3 469.5,146.3 470.0,146.4 470.5,146.4 471.0,146.5 471.5,146.2 472.0,146.5 472.5,146.6 473.0,146.6 473.5,146.3 474.0,146.2 474.5,146.1 475.0,146.3 475.5,146.3 476.0,146.3 476.5,146.2 477.0,146.0 477.5,146.3 478.0,146.3 478.5,146.3 479.0,146.2 479.5,146.4 480.0,146.4 480.5,146.3 481.0,146.6 481.5,146.5 482.0,146.5 482.5,146.6 483.0,146.5 483.5,146.5 484.0,146.6 484.5,146.7 485.0,146.7 485.5,146.5 486.0,146.7 486.5,146.8 487.0,146.4 487.5,146.6 488.0,146.6 488.5,146.7 489.0,146.9 489.5,146.9 490.0,146.7 490.5,146.8 491.0,146.8 491.5,147.0 492.0,147.4 492.5,147.1 493.0,147.6 493.5,147.5 494.0,147.7 494.5,147.8 495.0,148.3 495.5,148.2 496.0,148.3 496.5,148.5 497.0,148.1 497.5,148.9 498.0,148.5 498.5,148.7 499.0,149.1 499.5,149.0 500.0,149.2 500.5,149.8 501.0,149.8 501.5,150.2 502.0,150.3 502.5,150.4 503.0,150.9 503.5,150.9 504.0,151.4 504.5,151.2 505.0,151.4 505.5,151.6 506.0,152.0 506.5,152.0 507.0,152.2 507.5,152.8 508.0,152.8 508.5,153.2 509.0,153.4 509.5,153.5 510.0,153.7 510.5,154.1 511.0,154.3 511.5,154.5 512.0,154.7 512.5,155.3 513.0,155.5 513.5,155.6 514.0,155.8 514.5,156.0 515.0,156.6 515.5,156.5 516.0,157.2 516.5,157.0 517.0,157.1 517.5,157.8 518.0,157.7 518.5,158.2 519.0,158.2 519.5,158.3 520.0,158.7 520.5,158.7 521.0,159.0 521.5,159.1 522.0,159.1 522.5,159.6 523.0,159.7 523.5,160.0 524.0,160.2 524.5,160.2 525.0,160.7 525.5,160.9 526.0,161.2 526.5,161.2 527.0,161.2 527.5,161.2 528.0,161.4 528.5,161.4 529.0,161.8 529.5,161.8 530.0,161.9 530.5,162.1 531.0,162.3 531.5,162.4 532.0,162.3 532.5,162.8 533.0,162.7 533.5,162.9 534.0,163.0 534.5,163.0 535.0,163.2 535.5,163.2 536.0,163.2 536.5,163.4 537.0,163.6 537.5,163.6 538.0,163.6 538.5,163.6 539.0,163.7 539.5,163.8 540.0,163.6 540.5,164.0 541.0,164.0 541.5,163.9 542.0,164.3 542.5,164.5 543.0,164.1 543.5,164.3 544.0,164.2 544.5,164.4 545.0,164.1 545.5,164.4 546.0,164.4 546.5,164.6 547.0,164.1 547.5,164.3 548.0,164.4 548.5,164.6 549.0,164.5 549.5,164.6 550.0,164.6 550.5,164.4 551.0,164.5 551.5,164.5 552.0,164.5 552.5,164.4 553.0,164.7 553.5,164.6 554.0,164.3 554.5,164.7 555.0,164.6 555.5,164.4 556.0,164.9 556.5,164.7 557.0,164.8 557.5,164.7 558.0,164.7 558.5,164.5 559.0,164.9 559.5,164.7 560.0,164.8 560.5,164.8 561.0,164.6 561.5,164.6 562.0,164.7 562.5,164.9 563.0,164.6 563.5,164.6 564.0,164.7 564.5,164.5 565.0,164.8 565.5,164.7 566.0,164.9 566.5,164.6 567.0,164.9 567.5,164.4 568.0,164.5 568.5,164.3 569.0,164.4 569.5,164.4 570.0,164.5 570.5,164.6 571.0,164.3 571.5,164.1 572.0,164.3 572.5,164.3 573.0,164.2 573.5,164.4 574.0,164.4 574.5,164.1 575.0,164.1 575.5,163.8 576.0,164.0 576.5,164.2 577.0,163.9 577.5,164.2 578.0,164.1 578.5,164.1 579.0,164.0 579.5,163.9 580.0,164.0 580.5,164.0 581.0,163.9 581.5,163.8 582.0,163.9 582.5,163.9 583.0,163.6 583.5,163.9 584.0,163.9 584.5,164.2 585.0,163.9 585.5,163.9 586.0,163.9 586.5,164.3 587.0,164.0 587.5,164.3 588.0,164.2 588.5,164.6 589.0,164.6 589.5,164.6 590.0,164.2 590.5,164.4 591.0,164.2 591.5,165.1 592.0,164.7 592.5,164.7 593.0,164.9 593.5,165.2 594.0,165.1 594.5,165.3 595.0,165.4 595.5,165.4 596.0,166.0 596.5,166.1 597.0,166.0 597.5,166.1 598.0,166.5 598.5,166.7 599.0,166.5 599.5,166.7 600.0,166.7 600.5,166.9 601.0,166.6 601.5,166.8 602.0,167.3 602.5,167.3 603.0,167.6 603.5,167.7 604.0,167.9 604.5,168.0 605.0,168.1 605.5,168.3 606.0,168.3 606.5,168.8 607.0,168.6 607.5,168.8 608.0,169.1 608.5,169.1 609.0,169.4 609.5,169.7 610.0,169.7 610.5,169.6 611.0,169.9 611.5,169.6 612.0,169.4 612.5,169.7 613.0,169.4 613.5,169.4 614.0,169.4 614.5,169.1 615.0,169.2 615.5,168.8 616.0,168.8 616.5,168.8 617.0,169.1 617.5,168.8 618.0,168.9 618.5,168.6 619.0,168.5 619.5,167.8 620.0,167.9 620.5,167.8 621.0,167.4 621.5,166.9 622.0,166.8 622.5,166.9 623.0,166.7 623.5,166.3 624.0,166.3 624.5,165.7 625.0,165.7 625.5,165.3 626.0,165.0 626.5,164.3 627.0,164.3 627.5,163.8 628.0,163.3 628.5,163.0 629.0,162.6 629.5,162.3 630.0,161.8 630.5,161.4 631.0,161.2 631.5,160.8 632.0,160.4 632.5,160.1 633.0,159.2 633.5,159.0 634.0,158.7 634.5,158.2 635.0,157.6 635.5,157.4 636.0,157.1 636.5,156.4 637.0,155.9 637.5,155.7 638.0,155.1 638.5,154.7 639.0,154.3 639.5,153.7 640.0,153.4 640.5,152.8 641.0,152.2 641.5,152.2 642.0,151.7 642.5,151.2 643.0,151.0 643.5,150.3 644.0,150.1 644.5,149.6 645.0,149.2 645.5,148.7 646.0,148.8 646.5,148.5 647.0,148.3 647.5,147.7 648.0,147.6 648.5,147.4 649.0,147.2 649.5,146.9 650.0,146.7 650.5,146.0 651.0,146.1 651.5,145.9 652.0,145.7 652.5,145.9 653.0,145.8 653.5,145.6 654.0,145.5 654.5,145.7 655.0,145.2 655.5,145.5 656.0,145.3 656.5,145.4 657.0,145.6 657.5,145.4 658.0,145.2 658.5,145.3 659.0,145.3 659.5,145.1 660.0,145.2 660.5,144.9 661.0,144.9 661.5,144.8 662.0,144.7 662.5,144.8 663.0,144.7 663.5,144.7 664.0,145.1 664.5,144.9 665.0,144.7 665.5,145.0 666.0,144.9 666.5,144.6 667.0,144.6 667.5,145.0 668.0,144.7 668.5,144.7 669.0,144.6 669.5,144.5 670.0,144.8 670.5,144.5 671.0,144.7 671.5,144.9 672.0,144.7 672.5,144.6 673.0,144.7 673.5,144.7 674.0,144.5 674.5,144.6 675.0,144.4 675.5,144.3 676.0,144.5 676.5,144.3 677.0,144.5 677.5,144.5 678.0,144.6 678.5,144.8 679.0,144.4 679.5,144.4 680.0,144.4 680.5,144.3 681.0,144.8 681.5,144.4 682.0,144.5 682.5,144.5 683.0,144.9 683.5,144.5 684.0,144.4 684.5,144.7 685.0,144.4 685.5,144.2 686.0,144.7 686.5,144.6 687.0,144.3 687.5,144.3 688.0,144.5 688.5,144.4 689.0,144.3 689.5,144.3 690.0,144.8 690.5,144.7 691.0,144.3 691.5,144.5 692.0,144.5 692.5,144.4 693.0,144.5 693.5,144.8 694.0,144.4 694.5,144.4 695.0,144.5 695.5,144.4 696.0,144.4 696.5,144.4 697.0,144.3 697.5,144.7 698.0,144.4 698.5,144.7 699.0,144.4 699.5,144.4 700.0,144.5 700.5,144.5 701.0,144.6 701.5,144.6 702.0,144.8 702.5,144.0 703.0,144.3 703.5,144.5 704.0,144.5 704.5,144.5 705.0,144.9 705.5,144.1 706.0,144.6 706.5,144.5 707.0,144.5 707.5,144.7 708.0,144.5 708.5,144.6 709.0,144.7 709.5,144.7 710.0,144.2 710.5,144.4 711.0,144.3 711.5,144.4 712.0,144.5 712.5,144.8 713.0,144.4 713.5,144.4 714.0,144.5 714.5,144.7 715.0,144.4 715.5,144.6 716.0,144.6 716.5,144.6 717.0,144.2 717.5,144.3 718.0,144.6 718.5,144.2 719.0,144.5 719.5,144.3 720.0,144.5 720.5,144.5 721.0,144.2 721.5,144.4 722.0,144.3 722.5,144.4 723.0,144.7 723.5,144.5 724.0,144.5 724.5,144.7 725.0,144.5 725.5,144.7 726.0,144.5"/>
</g>
<line x1="84" y1="230.3" x2="726" y2="230.3" stroke="#959595" stroke-width="1.3"/>
<line x1="84" y1="57.4" x2="726" y2="57.4" stroke="#707070" stroke-width="1.2"/>
<line x1="726" y1="57" x2="726" y2="403" stroke="#c6c6c6" stroke-width="2"/>
<line x1="84.2" y1="57" x2="84.2" y2="403.5" stroke="#989898" stroke-width="1.5"/>
<line x1="83.5" y1="403.1" x2="727" y2="403.1" stroke="#848484" stroke-width="1.8"/>
<line x1="80" y1="76.5" x2="84" y2="76.5" stroke="#a4a4a4" stroke-width="1"/>
<text transform="translate(78.4 80.7) scale(0.78 1)" text-anchor="end" class="t">20</text>
<line x1="80" y1="98.4" x2="84" y2="98.4" stroke="#a4a4a4" stroke-width="1"/>
<text transform="translate(78.4 102.6) scale(0.78 1)" text-anchor="end" class="t">15</text>
<line x1="80" y1="120.3" x2="84" y2="120.3" stroke="#a4a4a4" stroke-width="1"/>
<text transform="translate(78.4 124.5) scale(0.78 1)" text-anchor="end" class="t">10</text>
<line x1="80" y1="142.3" x2="84" y2="142.3" stroke="#a4a4a4" stroke-width="1"/>
<text transform="translate(78.4 146.5) scale(0.78 1)" text-anchor="end" class="t">5</text>
<line x1="80" y1="164.3" x2="84" y2="164.3" stroke="#a4a4a4" stroke-width="1"/>
<text transform="translate(78.4 168.5) scale(0.78 1)" text-anchor="end" class="t">0</text>
<line x1="80" y1="186.2" x2="84" y2="186.2" stroke="#a4a4a4" stroke-width="1"/>
<text transform="translate(78.4 190.4) scale(0.78 1)" text-anchor="end" class="t">-5</text>
<line x1="80" y1="208.1" x2="84" y2="208.1" stroke="#a4a4a4" stroke-width="1"/>
<text transform="translate(78.4 212.3) scale(0.78 1)" text-anchor="end" class="t">-10</text>
<line x1="80" y1="234.3" x2="84" y2="234.3" stroke="#a4a4a4" stroke-width="1"/>
<line x1="80" y1="260.5" x2="84" y2="260.5" stroke="#a4a4a4" stroke-width="1"/>
<text transform="translate(78.4 264.7) scale(0.78 1)" text-anchor="end" class="t">200</text>
<line x1="80" y1="286.6" x2="84" y2="286.6" stroke="#a4a4a4" stroke-width="1"/>
<text transform="translate(78.4 290.8) scale(0.78 1)" text-anchor="end" class="t">100</text>
<line x1="80" y1="312.8" x2="84" y2="312.8" stroke="#a4a4a4" stroke-width="1"/>
<text transform="translate(78.4 317.0) scale(0.78 1)" text-anchor="end" class="t">0</text>
<line x1="80" y1="339.0" x2="84" y2="339.0" stroke="#a4a4a4" stroke-width="1"/>
<text transform="translate(78.4 343.2) scale(0.78 1)" text-anchor="end" class="t">-100</text>
<line x1="80" y1="365.2" x2="84" y2="365.2" stroke="#a4a4a4" stroke-width="1"/>
<text transform="translate(78.4 369.4) scale(0.78 1)" text-anchor="end" class="t">-200</text>
<line x1="80" y1="391.4" x2="84" y2="391.4" stroke="#a4a4a4" stroke-width="1"/>
<text transform="translate(78.4 395.6) scale(0.78 1)" text-anchor="end" class="t">-300</text>
<line x1="84.0" y1="403" x2="84.0" y2="408.5" stroke="#bdbdbd" stroke-width="1"/>
<text transform="translate(84.0 423.4) scale(0.8 1)" text-anchor="middle" class="t">0</text>
<line x1="128.3" y1="403" x2="128.3" y2="408.5" stroke="#bdbdbd" stroke-width="1"/>
<text transform="translate(128.3 423.4) scale(0.8 1)" text-anchor="middle" class="t">5</text>
<line x1="172.6" y1="403" x2="172.6" y2="408.5" stroke="#bdbdbd" stroke-width="1"/>
<text transform="translate(172.6 423.4) scale(0.8 1)" text-anchor="middle" class="t">10</text>
<line x1="216.9" y1="403" x2="216.9" y2="408.5" stroke="#bdbdbd" stroke-width="1"/>
<text transform="translate(216.9 423.4) scale(0.8 1)" text-anchor="middle" class="t">15</text>
<line x1="261.1" y1="403" x2="261.1" y2="408.5" stroke="#bdbdbd" stroke-width="1"/>
<text transform="translate(261.1 423.4) scale(0.8 1)" text-anchor="middle" class="t">20</text>
<line x1="305.4" y1="403" x2="305.4" y2="408.5" stroke="#bdbdbd" stroke-width="1"/>
<text transform="translate(305.4 423.4) scale(0.8 1)" text-anchor="middle" class="t">25</text>
<line x1="349.7" y1="403" x2="349.7" y2="408.5" stroke="#bdbdbd" stroke-width="1"/>
<text transform="translate(349.7 423.4) scale(0.8 1)" text-anchor="middle" class="t">30</text>
<line x1="394.0" y1="403" x2="394.0" y2="408.5" stroke="#bdbdbd" stroke-width="1"/>
<text transform="translate(394.0 423.4) scale(0.8 1)" text-anchor="middle" class="t">35</text>
<line x1="438.3" y1="403" x2="438.3" y2="408.5" stroke="#bdbdbd" stroke-width="1"/>
<text transform="translate(438.3 423.4) scale(0.8 1)" text-anchor="middle" class="t">40</text>
<line x1="482.6" y1="403" x2="482.6" y2="408.5" stroke="#bdbdbd" stroke-width="1"/>
<text transform="translate(482.6 423.4) scale(0.8 1)" text-anchor="middle" class="t">45</text>
<line x1="526.8" y1="403" x2="526.8" y2="408.5" stroke="#bdbdbd" stroke-width="1"/>
<text transform="translate(526.8 423.4) scale(0.8 1)" text-anchor="middle" class="t">50</text>
<line x1="571.1" y1="403" x2="571.1" y2="408.5" stroke="#bdbdbd" stroke-width="1"/>
<text transform="translate(571.1 423.4) scale(0.8 1)" text-anchor="middle" class="t">55</text>
<line x1="615.4" y1="403" x2="615.4" y2="408.5" stroke="#bdbdbd" stroke-width="1"/>
<text transform="translate(615.4 423.4) scale(0.8 1)" text-anchor="middle" class="t">60</text>
<line x1="659.7" y1="403" x2="659.7" y2="408.5" stroke="#bdbdbd" stroke-width="1"/>
<text transform="translate(659.7 423.4) scale(0.8 1)" text-anchor="middle" class="t">65</text>
<line x1="704.0" y1="403" x2="704.0" y2="408.5" stroke="#bdbdbd" stroke-width="1"/>
<text transform="translate(704.0 423.4) scale(0.8 1)" text-anchor="middle" class="t">70</text>
</svg>
</body></html>
